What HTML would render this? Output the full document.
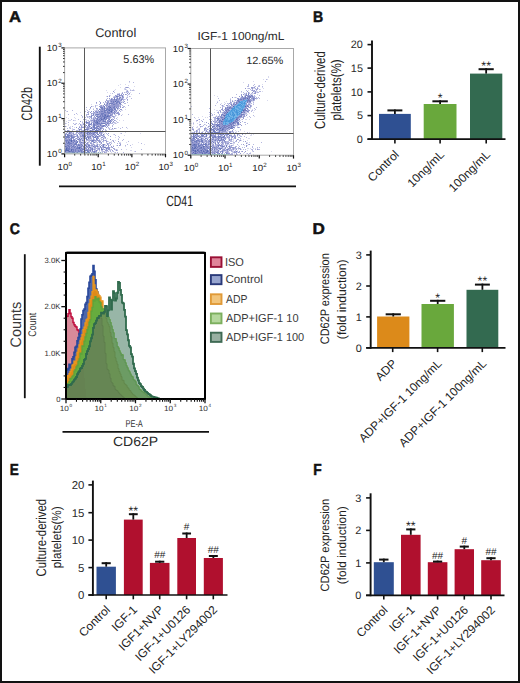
<!DOCTYPE html>
<html><head><meta charset="utf-8"><style>
html,body{margin:0;padding:0;background:#fff;overflow:hidden;width:520px;height:683px;}
svg{display:block;}
text{font-family:"Liberation Sans", sans-serif;text-rendering:geometricPrecision;}
</style></head><body>
<svg width="520" height="683" viewBox="0 0 520 683">
<defs><filter id="blr" x="-5%" y="-5%" width="110%" height="110%"><feGaussianBlur stdDeviation="0.35"/></filter></defs>
<rect x="0" y="0" width="520" height="683" fill="#fff"/>
<text x="9.13" y="22.35" font-size="15.7" font-weight="bold" fill="#111" textLength="12.06" lengthAdjust="spacingAndGlyphs" stroke="#111" stroke-width="0.5">A</text>
<text x="313.01" y="22.15" font-size="15.41" font-weight="bold" fill="#111" textLength="10.18" lengthAdjust="spacingAndGlyphs" stroke="#111" stroke-width="0.5">B</text>
<text x="9.67" y="234" font-size="15.54" font-weight="bold" fill="#111" textLength="10.16" lengthAdjust="spacingAndGlyphs" stroke="#111" stroke-width="0.5">C</text>
<text x="312.5" y="233.95" font-size="15.7" font-weight="bold" fill="#111" textLength="12.36" lengthAdjust="spacingAndGlyphs" stroke="#111" stroke-width="0.5">D</text>
<text x="9.84" y="474.85" font-size="15.99" font-weight="bold" fill="#111" textLength="9.04" lengthAdjust="spacingAndGlyphs" stroke="#111" stroke-width="0.5">E</text>
<text x="313.23" y="474.65" font-size="15.99" font-weight="bold" fill="#111" textLength="8.43" lengthAdjust="spacingAndGlyphs" stroke="#111" stroke-width="0.5">F</text>
<g filter="url(#blr)">
<g stroke="#b5b8df" stroke-width="1" fill="none"><path d="M129 81.5h1" stroke-dasharray="1"/><path d="M133 82.5h1" stroke-dasharray="1"/><path d="M125 87.5h4" stroke-dasharray="1 2 1"/><path d="M125 89.5h1" stroke-dasharray="1"/><path d="M127 90.5h7" stroke-dasharray="1 2 1 1 1 0 1"/><path d="M126 91.5h1" stroke-dasharray="1"/><path d="M114 92.5h15" stroke-dasharray="1 7 1 1 1 1 1 1 1"/><path d="M112 93.5h28" stroke-dasharray="1 6 1 19 1"/><path d="M126 94.5h3" stroke-dasharray="1 1 1"/><path d="M109 95.5h19" stroke-dasharray="1 6 1 0 1 9 1"/><path d="M114 96.5h16" stroke-dasharray="1 0 1 3 1 3 1 5 1"/><path d="M113 97.5h15" stroke-dasharray="1 1 1 0 1 10 1"/><path d="M107 98.5h25" stroke-dasharray="1 4 1 3 1 1 1 1 1 0 1 4 1 4 1"/><path d="M106 99.5h19" stroke-dasharray="1 3 1 9 1 2 1 0 1"/><path d="M107 100.5h21" stroke-dasharray="1 0 1 0 1 9 1 3 1 3 1"/><path d="M99 101.5h22" stroke-dasharray="1 20 1"/><path d="M103 102.5h25" stroke-dasharray="1 1 1 0 1 3 1 4 1 4 1 6 1"/><path d="M96 103.5h30" stroke-dasharray="1 7 1 1 1 1 1 9 1 5 1 0 1"/><path d="M99 104.5h23" stroke-dasharray="1 8 1 10 1 1 1"/><path d="M95 105.5h34" stroke-dasharray="1 4 1 7 1 10 1 0 1 1 1 5 1"/><path d="M95 106.5h30" stroke-dasharray="1 6 1 4 1 11 1 3 1 0 1"/><path d="M86 107.5h38" stroke-dasharray="1 16 1 2 1 8 1 1 1 5 1"/><path d="M90 108.5h30" stroke-dasharray="1 6 1 20 1 0 1"/><path d="M89 109.5h29" stroke-dasharray="1 3 1 3 1 15 1 3 1"/><path d="M65 110.5h50" stroke-dasharray="1 6 1 14 1 8 1 17 1"/><path d="M67 111.5h54" stroke-dasharray="1 17 1 2 1 8 1 0 1 7 1 8 1 4 1"/><path d="M88 112.5h11" stroke-dasharray="1 4 1 1 1 2 1"/><path d="M76 113.5h44" stroke-dasharray="1 11 1 3 1 1 1 0 1 0 1 0 1 0 1 12 1 1 1 5 1"/><path d="M68 114.5h61" stroke-dasharray="1 5 1 11 1 0 1 3 1 22 1 13 1"/><path d="M81 115.5h41" stroke-dasharray="1 4 1 9 1 1 1 0 1 12 1 2 1 5 1"/><path d="M82 116.5h33" stroke-dasharray="1 4 1 2 1 19 1 3 1"/><path d="M82 117.5h33" stroke-dasharray="1 2 1 1 1 2 1 2 1 0 1 18 1 0 1"/><path d="M89 118.5h28" stroke-dasharray="1 4 1 3 1 15 1 1 1"/><path d="M71 119.5h42" stroke-dasharray="1 6 1 4 1 1 1 26 1"/><path d="M73 120.5h43" stroke-dasharray="1 14 1 1 1 13 1 4 1 1 1 0 1 2 1"/><path d="M91 121.5h26" stroke-dasharray="1 9 1 14 1"/><path d="M68 122.5h50" stroke-dasharray="1 13 1 2 1 5 1 0 1 7 1 1 1 0 1 0 1 7 1 0 1 0 1 2 1"/><path d="M65 123.5h51" stroke-dasharray="1 7 1 2 1 2 1 3 1 0 1 2 1 18 1 3 1 0 1 0 1 2 1"/><path d="M74 124.5h40" stroke-dasharray="1 0 1 9 1 15 1 11 1"/><path d="M80 125.5h33" stroke-dasharray="1 0 1 3 1 5 1 5 1 1 1 5 1 6 1"/><path d="M72 126.5h41" stroke-dasharray="1 6 1 8 1 1 1 1 1 7 1 3 1 7 1"/><path d="M69 127.5h58" stroke-dasharray="1 15 1 0 1 2 1 2 1 9 1 5 1 13 1 3 1"/><path d="M67 128.5h54" stroke-dasharray="1 2 1 10 1 4 1 2 1 2 1 0 1 5 1 2 1 0 1 5 1 5 1 4 1"/><path d="M73 129.5h39" stroke-dasharray="1 0 1 30 1 3 1 1 1"/><path d="M65 130.5h42" stroke-dasharray="1 6 1 3 1 0 1 3 1 0 1 1 1 0 1 3 1 3 1 5 1 5 1 0 1"/><path d="M66 131.5h58" stroke-dasharray="1 7 1 2 1 1 1 0 1 7 1 4 1 2 1 5 1 0 1 3 1 7 1 7 1"/><path d="M73 132.5h30" stroke-dasharray="1 12 1 4 1 10 1"/><path d="M65 133.5h57" stroke-dasharray="1 2 1 2 1 0 1 3 1 2 1 2 1 2 1 2 1 11 1 5 1 14 1"/><path d="M66 134.5h49" stroke-dasharray="1 2 1 0 1 4 1 0 1 0 1 2 1 0 1 3 1 5 1 8 1 6 1 6 1"/><path d="M73 135.5h43" stroke-dasharray="1 2 1 4 1 4 1 0 1 0 1 0 1 0 1 4 1 4 1 2 1 4 1 6 1"/><path d="M76 136.5h43" stroke-dasharray="1 1 1 21 1 17 1"/><path d="M64 137.5h56" stroke-dasharray="1 15 1 1 1 2 1 10 1 1 1 5 1 14 1"/><path d="M64 138.5h42" stroke-dasharray="1 2 1 1 1 2 1 2 1 1 1 4 1 1 1 4 1 1 1 13 1"/><path d="M75 139.5h49" stroke-dasharray="1 5 1 0 1 0 1 4 1 0 1 1 1 2 1 4 1 1 1 0 1 0 1 14 1 4 1"/><path d="M75 140.5h48" stroke-dasharray="1 10 1 0 1 0 1 0 1 6 1 7 1 1 1 5 1 0 1 8 1"/><path d="M83 141.5h46" stroke-dasharray="1 5 1 5 1 0 1 1 1 3 1 0 1 3 1 20 1"/><path d="M65 142.5h50" stroke-dasharray="1 8 1 13 1 1 1 0 1 3 1 1 1 2 1 5 1 2 1 0 1 3 1"/><path d="M64 143.5h78" stroke-dasharray="1 16 1 0 1 10 1 14 1 0 1 1 1 5 1 1 1 0 1 20 1"/><path d="M77 144.5h51" stroke-dasharray="1 4 1 3 1 2 1 1 1 0 1 1 1 4 1 0 1 1 1 5 1 18 1"/><path d="M72 145.5h59" stroke-dasharray="1 17 1 4 1 3 1 2 1 17 1 4 1 4 1"/><path d="M76 146.5h23" stroke-dasharray="1 1 1 3 1 1 1 6 1 0 1 5 1"/><path d="M70 147.5h42" stroke-dasharray="1 15 1 1 1 2 1 0 1 4 1 4 1 3 1 4 1"/><path d="M84 148.5h31" stroke-dasharray="1 9 1 0 1 0 1 0 1 5 1 10 1"/><path d="M85 149.5h57" stroke-dasharray="1 3 1 3 1 1 1 1 1 0 1 4 1 7 1 4 1 4 1 19 1"/><path d="M94 150.5h24" stroke-dasharray="1 0 1 1 1 1 1 1 1 0 1 7 1 6 1"/><path d="M85 151.5h51" stroke-dasharray="1 3 1 12 1 0 1 0 1 1 1 1 1 1 1 2 1 21 1"/><path d="M64 152.5h60" stroke-dasharray="1 10 1 2 1 0 1 0 1 14 1 0 1 5 1 2 1 0 1 8 1 1 1 5 1"/></g>
<g stroke="#d8d9ee" stroke-width="1" fill="none"><path d="M129 82.5h1" stroke-dasharray="1"/><path d="M120 84.5h6" stroke-dasharray="1 4 1"/><path d="M118 85.5h11" stroke-dasharray="1 9 1"/><path d="M134 86.5h1" stroke-dasharray="1"/><path d="M120 87.5h1" stroke-dasharray="1"/><path d="M124 88.5h6" stroke-dasharray="1 0 1 3 1"/><path d="M115 89.5h19" stroke-dasharray="1 8 1 1 1 3 1 2 1"/><path d="M106 90.5h29" stroke-dasharray="1 7 1 11 1 4 1 2 1"/><path d="M128 91.5h1" stroke-dasharray="1"/><path d="M107 92.5h24" stroke-dasharray="1 17 1 1 1 2 1"/><path d="M110 93.5h12" stroke-dasharray="1 6 1 0 1 2 1"/><path d="M129 94.5h3" stroke-dasharray="1 1 1"/><path d="M110 95.5h14" stroke-dasharray="1 7 1 4 1"/><path d="M106 96.5h25" stroke-dasharray="1 6 1 6 1 0 1 5 1 2 1"/><path d="M121 97.5h6" stroke-dasharray="1 4 1"/><path d="M123 98.5h1" stroke-dasharray="1"/><path d="M109 99.5h17" stroke-dasharray="1 15 1"/><path d="M109 101.5h15" stroke-dasharray="1 11 1 0 1 0 1"/><path d="M109 102.5h14" stroke-dasharray="1 12 1"/><path d="M91 104.5h20" stroke-dasharray="1 13 1 4 1"/><path d="M96 105.5h7" stroke-dasharray="1 0 1 4 1"/><path d="M92 106.5h2" stroke-dasharray="1 0 1"/><path d="M95 107.5h31" stroke-dasharray="1 9 1 19 1"/><path d="M93 108.5h24" stroke-dasharray="1 5 1 0 1 15 1"/><path d="M86 109.5h40" stroke-dasharray="1 9 1 8 1 12 1 6 1"/><path d="M94 110.5h29" stroke-dasharray="1 0 1 1 1 19 1 3 1 0 1"/><path d="M66 111.5h53" stroke-dasharray="1 22 1 23 1 4 1"/><path d="M80 112.5h37" stroke-dasharray="1 35 1"/><path d="M115 113.5h1" stroke-dasharray="1"/><path d="M77 114.5h46" stroke-dasharray="1 16 1 14 1 5 1 6 1"/><path d="M94 115.5h25" stroke-dasharray="1 21 1 1 1"/><path d="M86 116.5h30" stroke-dasharray="1 1 1 22 1 3 1"/><path d="M66 117.5h52" stroke-dasharray="1 7 1 13 1 0 1 21 1 5 1"/><path d="M68 118.5h45" stroke-dasharray="1 6 1 16 1 17 1 1 1"/><path d="M86 119.5h32" stroke-dasharray="1 3 1 0 1 0 1 2 1 21 1"/><path d="M68 120.5h56" stroke-dasharray="1 0 1 0 1 3 1 0 1 10 1 0 1 31 1 3 1"/><path d="M66 121.5h41" stroke-dasharray="1 15 1 2 1 2 1 1 1 1 1 13 1"/><path d="M109 122.5h10" stroke-dasharray="1 5 1 2 1"/><path d="M66 123.5h51" stroke-dasharray="1 8 1 6 1 7 1 23 1 1 1"/><path d="M68 124.5h42" stroke-dasharray="1 9 1 2 1 0 1 9 1 9 1 4 1 1 1"/><path d="M68 125.5h42" stroke-dasharray="1 13 1 1 1 7 1 14 1 1 1"/><path d="M66 126.5h18" stroke-dasharray="1 3 1 11 1 0 1"/><path d="M70 127.5h49" stroke-dasharray="1 3 1 5 1 3 1 5 1 7 1 11 1 7 1"/><path d="M69 128.5h59" stroke-dasharray="1 2 1 7 1 27 1 7 1 10 1"/><path d="M72 129.5h42" stroke-dasharray="1 5 1 5 1 4 1 7 1 3 1 8 1 1 1 0 1"/><path d="M69 130.5h26" stroke-dasharray="1 8 1 7 1 1 1 5 1"/><path d="M68 131.5h59" stroke-dasharray="1 0 1 2 1 2 1 2 1 7 1 13 1 0 1 8 1 15 1"/><path d="M66 132.5h60" stroke-dasharray="1 1 1 3 1 5 1 24 1 1 1 19 1"/><path d="M75 133.5h66" stroke-dasharray="1 19 1 6 1 1 1 15 1 19 1"/><path d="M64 134.5h50" stroke-dasharray="1 7 1 11 1 1 1 17 1 8 1"/><path d="M74 135.5h51" stroke-dasharray="1 4 1 13 1 4 1 5 1 19 1"/><path d="M79 136.5h24" stroke-dasharray="1 4 1 6 1 2 1 7 1"/><path d="M70 137.5h46" stroke-dasharray="1 8 1 1 1 9 1 0 1 10 1 11 1"/><path d="M78 138.5h41" stroke-dasharray="1 1 1 19 1 0 1 2 1 2 1 10 1"/><path d="M90 139.5h17" stroke-dasharray="1 1 1 13 1"/><path d="M78 140.5h38" stroke-dasharray="1 2 1 18 1 0 1 13 1"/><path d="M64 141.5h48" stroke-dasharray="1 13 1 2 1 0 1 2 1 0 1 1 1 5 1 13 1 2 1"/><path d="M89 142.5h50" stroke-dasharray="1 6 1 6 1 7 1 7 1 0 1 5 1 11 1"/><path d="M78 143.5h29" stroke-dasharray="1 0 1 8 1 3 1 3 1 0 1 2 1 5 1"/><path d="M83 144.5h62" stroke-dasharray="1 0 1 11 1 1 1 6 1 26 1 11 1"/><path d="M64 145.5h53" stroke-dasharray="1 10 1 7 1 3 1 5 1 10 1 0 1 3 1 0 1 2 1 2 1"/><path d="M85 146.5h41" stroke-dasharray="1 4 1 8 1 4 1 0 1 19 1"/><path d="M82 147.5h50" stroke-dasharray="1 10 1 4 1 0 1 10 1 7 1 12 1"/><path d="M89 148.5h17" stroke-dasharray="1 3 1 8 1 2 1"/><path d="M64 149.5h63" stroke-dasharray="1 40 1 1 1 2 1 4 1 1 1 8 1"/><path d="M83 150.5h49" stroke-dasharray="1 7 1 17 1 5 1 14 1 0 1"/><path d="M91 151.5h44" stroke-dasharray="1 7 1 1 1 3 1 1 1 4 1 21 1"/><path d="M92 152.5h23" stroke-dasharray="1 18 1 2 1"/></g>
<g stroke="#9499cf" stroke-width="1" fill="none"><path d="M126 87.5h2" stroke-dasharray="1 0 1"/><path d="M113 91.5h15" stroke-dasharray="1 13 1"/><path d="M122 93.5h8" stroke-dasharray="1 4 1 1 1"/><path d="M117 94.5h9" stroke-dasharray="1 0 1 0 1 1 1 1 1 1 1"/><path d="M115 95.5h8" stroke-dasharray="1 4 1 0 1 0 1"/><path d="M107 96.5h12" stroke-dasharray="1 1 1 8 1"/><path d="M114 97.5h10" stroke-dasharray="1 2 1 1 1 2 1 0 1"/><path d="M109 98.5h14" stroke-dasharray="1 1 1 10 1"/><path d="M112 99.5h16" stroke-dasharray="1 0 1 1 1 1 1 0 1 0 1 2 1 4 1"/><path d="M106 100.5h16" stroke-dasharray="1 3 1 0 1 0 1 0 1 0 1 0 1 1 1 0 1 1 1 0 1"/><path d="M105 101.5h20" stroke-dasharray="1 1 1 0 1 1 1 1 1 1 1 1 1 2 1 4 1"/><path d="M96 102.5h28" stroke-dasharray="1 3 1 6 1 0 1 2 1 0 1 1 1 3 1 2 1 1 1"/><path d="M100 103.5h18" stroke-dasharray="1 12 1 0 1 0 1 1 1"/><path d="M106 104.5h15" stroke-dasharray="1 0 1 1 1 1 1 0 1 2 1 0 1 0 1 0 1 1 1"/><path d="M101 105.5h18" stroke-dasharray="1 1 1 1 1 0 1 0 1 1 1 0 1 0 1 0 1 0 1 0 1 0 1 0 1 0 1 0 1"/><path d="M91 106.5h30" stroke-dasharray="1 7 1 0 1 0 1 1 1 2 1 3 1 0 1 0 1 0 1 1 1 0 1 0 1 0 1 1 1"/><path d="M90 107.5h33" stroke-dasharray="1 16 1 0 1 2 1 0 1 5 1 1 1 1 1"/><path d="M96 108.5h20" stroke-dasharray="1 6 1 1 1 0 1 1 1 1 1 1 1 0 1 1 1"/><path d="M100 109.5h22" stroke-dasharray="1 0 1 1 1 16 1 0 1"/><path d="M98 110.5h22" stroke-dasharray="1 1 1 0 1 0 1 0 1 3 1 2 1 2 1 1 1 0 1 2 1"/><path d="M91 111.5h26" stroke-dasharray="1 1 1 1 1 0 1 3 1 2 1 1 1 2 1 0 1 2 1 3 1"/><path d="M87 112.5h32" stroke-dasharray="1 2 1 3 1 1 1 2 1 0 1 0 1 0 1 0 1 2 1 3 1 1 1 0 1 0 1 0 1 1 1 0 1"/><path d="M91 113.5h28" stroke-dasharray="1 1 1 5 1 0 1 3 1 0 1 0 1 0 1 2 1 1 1 3 1 0 1 0 1"/><path d="M88 114.5h32" stroke-dasharray="1 6 1 3 1 0 1 2 1 2 1 0 1 0 1 1 1 0 1 0 1 5 1 0 1"/><path d="M91 115.5h21" stroke-dasharray="1 0 1 0 1 1 1 1 1 3 1 1 1 2 1 2 1 1 1"/><path d="M89 116.5h25" stroke-dasharray="1 4 1 3 1 2 1 10 1 0 1"/><path d="M91 117.5h20" stroke-dasharray="1 3 1 1 1 1 1 0 1 1 1 0 1 3 1 0 1 0 1 0 1"/><path d="M91 118.5h19" stroke-dasharray="1 1 1 1 1 0 1 2 1 2 1 2 1 1 1 0 1 0 1"/><path d="M93 119.5h21" stroke-dasharray="1 0 1 1 1 1 1 1 1 3 1 1 1 1 1 4 1"/><path d="M91 120.5h24" stroke-dasharray="1 0 1 0 1 1 1 1 1 1 1 1 1 0 1 2 1 1 1 0 1 5 1"/><path d="M80 121.5h34" stroke-dasharray="1 5 1 2 1 3 1 1 1 2 1 1 1 1 1 4 1 0 1 1 1 0 1 1 1"/><path d="M88 122.5h21" stroke-dasharray="1 0 1 3 1 0 1 3 1 0 1 1 1 3 1 0 1 0 1 0 1"/><path d="M86 123.5h24" stroke-dasharray="1 1 1 0 1 4 1 0 1 4 1 4 1 2 1 0 1"/><path d="M80 124.5h29" stroke-dasharray="1 2 1 4 1 2 1 3 1 0 1 1 1 0 1 5 1 2 1"/><path d="M89 125.5h20" stroke-dasharray="1 5 1 0 1 1 1 2 1 0 1 3 1 1 1"/><path d="M65 126.5h43" stroke-dasharray="1 15 1 3 1 1 1 8 1 2 1 1 1 3 1 1 1"/><path d="M76 127.5h31" stroke-dasharray="1 2 1 1 1 0 1 0 1 3 1 0 1 6 1 1 1 1 1 0 1 0 1 4 1"/><path d="M78 128.5h37" stroke-dasharray="1 5 1 2 1 0 1 7 1 4 1 10 1 1 1"/><path d="M80 129.5h24" stroke-dasharray="1 0 1 6 1 9 1 1 1 2 1"/><path d="M67 130.5h36" stroke-dasharray="1 0 1 10 1 3 1 3 1 3 1 0 1 5 1 1 1 1 1"/><path d="M65 131.5h50" stroke-dasharray="1 7 1 9 1 0 1 5 1 6 1 0 1 7 1 7 1"/><path d="M67 132.5h35" stroke-dasharray="1 2 1 0 1 4 1 0 1 1 1 0 1 1 1 0 1 1 1 3 1 2 1 0 1 2 1 2 1 0 1 0 1"/><path d="M66 133.5h43" stroke-dasharray="1 3 1 2 1 4 1 1 1 0 1 1 1 2 1 3 1 1 1 1 1 1 1 0 1 1 1 1 1 6 1"/><path d="M68 134.5h34" stroke-dasharray="1 2 1 1 1 0 1 4 1 2 1 0 1 4 1 0 1 0 1 1 1 1 1 0 1 5 1"/><path d="M64 135.5h39" stroke-dasharray="1 5 1 1 1 7 1 3 1 0 1 5 1 0 1 1 1 1 1 2 1 1 1 0 1"/><path d="M64 136.5h47" stroke-dasharray="1 4 1 0 1 1 1 0 1 0 1 0 1 1 1 2 1 0 1 0 1 5 1 0 1 2 1 3 1 1 1 0 1 3 1 0 1 5 1"/><path d="M65 137.5h41" stroke-dasharray="1 8 1 2 1 0 1 4 1 2 1 0 1 1 1 0 1 2 1 7 1 0 1 2 1"/><path d="M66 138.5h38" stroke-dasharray="1 1 1 1 1 2 1 2 1 6 1 1 1 4 1 2 1 3 1 0 1 4 1"/><path d="M64 139.5h47" stroke-dasharray="1 0 1 0 1 0 1 0 1 1 1 2 1 0 1 2 1 1 1 7 1 5 1 3 1 12 1"/><path d="M68 140.5h38" stroke-dasharray="1 3 1 6 1 0 1 2 1 0 1 5 1 0 1 2 1 0 1 1 1 0 1 0 1 3 1 1 1"/><path d="M65 141.5h54" stroke-dasharray="1 1 1 1 1 0 1 1 1 0 1 1 1 0 1 2 1 0 1 3 1 6 1 1 1 5 1 0 1 5 1 6 1 4 1"/><path d="M67 142.5h35" stroke-dasharray="1 2 1 0 1 0 1 2 1 3 1 0 1 1 1 0 1 1 1 1 1 5 1 5 1 1 1"/><path d="M65 143.5h43" stroke-dasharray="1 0 1 5 1 0 1 0 1 5 1 2 1 0 1 1 1 0 1 2 1 0 1 9 1 5 1"/><path d="M66 144.5h55" stroke-dasharray="1 0 1 0 1 1 1 0 1 0 1 0 1 5 1 0 1 4 1 1 1 0 1 4 1 3 1 6 1 2 1 2 1 9 1"/><path d="M65 145.5h55" stroke-dasharray="1 0 1 2 1 0 1 3 1 1 1 0 1 2 1 0 1 2 1 1 1 4 1 0 1 1 1 1 1 0 1 3 1 4 1 1 1 8 1 1 1"/><path d="M67 146.5h47" stroke-dasharray="1 2 1 0 1 2 1 4 1 0 1 6 1 0 1 0 1 4 1 0 1 0 1 5 1 5 1 2 1 1 1"/><path d="M65 147.5h48" stroke-dasharray="1 2 1 3 1 0 1 1 1 0 1 4 1 1 1 1 1 1 1 6 1 0 1 4 1 0 1 1 1 3 1 0 1 0 1 2 1"/><path d="M64 148.5h50" stroke-dasharray="1 0 1 4 1 0 1 0 1 0 1 0 1 0 1 4 1 1 1 0 1 1 1 0 1 3 1 0 1 6 1 0 1 7 1 0 1 0 1 3 1"/><path d="M70 149.5h45" stroke-dasharray="1 3 1 1 1 0 1 0 1 0 1 1 1 4 1 0 1 0 1 1 1 0 1 2 1 4 1 4 1 1 1 1 1 0 1 4 1"/><path d="M69 150.5h48" stroke-dasharray="1 0 1 1 1 1 1 1 1 0 1 1 1 2 1 5 1 0 1 15 1 0 1 0 1 4 1 3 1"/><path d="M66 151.5h31" stroke-dasharray="1 0 1 6 1 1 1 0 1 2 1 1 1 7 1 1 1 0 1 1 1 0 1"/><path d="M65 152.5h40" stroke-dasharray="1 0 1 0 1 0 1 0 1 0 1 0 1 4 1 6 1 0 1 0 1 1 1 3 1 1 1 4 1 1 1 3 1"/></g>
<g stroke="#737fc0" stroke-width="1" fill="none"><path d="M119 95.5h1" stroke-dasharray="1"/><path d="M116 96.5h7" stroke-dasharray="1 0 1 4 1"/><path d="M120 97.5h1" stroke-dasharray="1"/><path d="M114 98.5h6" stroke-dasharray="1 2 1 1 1"/><path d="M111 99.5h11" stroke-dasharray="1 2 1 1 1 4 1"/><path d="M116 100.5h1" stroke-dasharray="1"/><path d="M111 101.5h8" stroke-dasharray="1 1 1 3 1 0 1"/><path d="M113 102.5h7" stroke-dasharray="1 2 1 0 1 1 1"/><path d="M107 103.5h14" stroke-dasharray="1 1 1 0 1 0 1 0 1 3 1 2 1 0 1"/><path d="M104 104.5h11" stroke-dasharray="1 8 1 0 1"/><path d="M104 106.5h11" stroke-dasharray="1 3 1 0 1 4 1"/><path d="M100 107.5h17" stroke-dasharray="1 0 1 0 1 1 1 4 1 3 1 0 1 1 1"/><path d="M101 108.5h17" stroke-dasharray="1 0 1 1 1 2 1 1 1 1 1 2 1 2 1"/><path d="M99 109.5h17" stroke-dasharray="1 2 1 1 1 1 1 0 1 0 1 0 1 0 1 0 1 0 1 1 1 0 1"/><path d="M104 110.5h9" stroke-dasharray="1 0 1 0 1 1 1 2 1 0 1"/><path d="M99 111.5h16" stroke-dasharray="1 1 1 0 1 1 1 2 1 2 1 3 1"/><path d="M97 112.5h15" stroke-dasharray="1 6 1 0 1 1 1 0 1 0 1 1 1"/><path d="M101 113.5h14" stroke-dasharray="1 0 1 0 1 4 1 0 1 4 1"/><path d="M93 114.5h13" stroke-dasharray="1 2 1 0 1 0 1 2 1 0 1 1 1 0 1"/><path d="M100 115.5h11" stroke-dasharray="1 1 1 1 1 2 1 0 1 1 1"/><path d="M91 116.5h19" stroke-dasharray="1 4 1 0 1 1 1 0 1 1 1 0 1 0 1 0 1 0 1 1 1 0 1"/><path d="M98 117.5h9" stroke-dasharray="1 2 1 3 1 0 1"/><path d="M97 118.5h10" stroke-dasharray="1 2 1 0 1 1 1 2 1"/><path d="M97 119.5h15" stroke-dasharray="1 1 1 2 1 0 1 1 1 3 1 1 1"/><path d="M94 120.5h17" stroke-dasharray="1 1 1 1 1 1 1 2 1 6 1"/><path d="M94 121.5h16" stroke-dasharray="1 1 1 0 1 1 1 3 1 0 1 0 1 3 1"/><path d="M86 122.5h25" stroke-dasharray="1 0 1 7 1 0 1 13 1"/><path d="M91 123.5h17" stroke-dasharray="1 1 1 2 1 0 1 0 1 0 1 1 1 0 1 0 1 0 1 2 1"/><path d="M89 124.5h18" stroke-dasharray="1 0 1 2 1 0 1 2 1 2 1 5 1"/><path d="M86 125.5h19" stroke-dasharray="1 1 1 4 1 0 1 5 1 2 1 0 1"/><path d="M89 126.5h15" stroke-dasharray="1 3 1 0 1 2 1 0 1 3 1 0 1"/><path d="M91 127.5h6" stroke-dasharray="1 1 1 0 1 1 1"/><path d="M90 128.5h11" stroke-dasharray="1 0 1 2 1 0 1 1 1 0 1 1 1"/><path d="M79 129.5h21" stroke-dasharray="1 5 1 0 1 0 1 4 1 0 1 0 1 1 1 2 1"/><path d="M90 130.5h8" stroke-dasharray="1 4 1 0 1 0 1"/><path d="M70 131.5h26" stroke-dasharray="1 0 1 13 1 1 1 1 1 1 1 0 1 1 1 0 1"/><path d="M69 132.5h29" stroke-dasharray="1 11 1 2 1 2 1 0 1 1 1 3 1 0 1 1 1"/><path d="M69 133.5h25" stroke-dasharray="1 14 1 2 1 1 1 1 1 1 1"/><path d="M65 134.5h39" stroke-dasharray="1 1 1 19 1 5 1 3 1 0 1 4 1"/><path d="M65 135.5h19" stroke-dasharray="1 1 1 0 1 0 1 1 1 5 1 4 1 0 1"/><path d="M65 136.5h33" stroke-dasharray="1 0 1 0 1 0 1 2 1 11 1 1 1 1 1 2 1 2 1 1 1 1 1"/><path d="M66 137.5h32" stroke-dasharray="1 0 1 0 1 0 1 1 1 0 1 0 1 10 1 3 1 5 1 0 1 1 1"/><path d="M65 138.5h32" stroke-dasharray="1 5 1 7 1 1 1 4 1 1 1 7 1"/><path d="M69 139.5h28" stroke-dasharray="1 1 1 6 1 1 1 3 1 1 1 9 1"/><path d="M65 140.5h29" stroke-dasharray="1 0 1 0 1 1 1 0 1 2 1 0 1 1 1 5 1 9 1 0 1"/><path d="M66 141.5h27" stroke-dasharray="1 1 1 5 1 2 1 14 1"/><path d="M66 142.5h29" stroke-dasharray="1 2 1 3 1 2 1 0 1 3 1 12 1"/><path d="M67 143.5h10" stroke-dasharray="1 0 1 0 1 0 1 0 1 3 1 0 1"/><path d="M65 144.5h39" stroke-dasharray="1 3 1 4 1 0 1 0 1 1 1 2 1 21 1"/><path d="M67 145.5h37" stroke-dasharray="1 0 1 2 1 1 1 4 1 0 1 2 1 2 1 2 1 0 1 13 1"/><path d="M64 146.5h40" stroke-dasharray="1 1 1 1 1 0 1 2 1 0 1 1 1 1 1 3 1 1 1 2 1 6 1 3 1 2 1 2 1"/><path d="M66 147.5h40" stroke-dasharray="1 0 1 1 1 1 1 2 1 2 1 0 1 1 1 8 1 0 1 13 1 0 1"/><path d="M67 148.5h40" stroke-dasharray="1 0 1 0 1 6 1 0 1 0 1 2 1 6 1 3 1 8 1 4 1"/><path d="M65 149.5h38" stroke-dasharray="1 1 1 0 1 0 1 2 1 0 1 1 1 4 1 1 1 0 1 0 1 7 1 8 1 0 1"/><path d="M64 150.5h33" stroke-dasharray="1 8 1 1 1 2 1 1 1 0 1 2 1 0 1 0 1 0 1 2 1 1 1 3 1"/><path d="M64 151.5h31" stroke-dasharray="1 3 1 1 1 0 1 0 1 0 1 1 1 2 1 0 1 1 1 1 1 0 1 2 1 0 1 5 1"/><path d="M72 152.5h23" stroke-dasharray="1 0 1 0 1 2 1 3 1 0 1 3 1 1 1 0 1 4 1"/></g>
<g stroke="#5767b0" stroke-width="1" fill="none"><path d="M115 101.5h1" stroke-dasharray="1"/><path d="M110 107.5h1" stroke-dasharray="1"/><path d="M109 110.5h1" stroke-dasharray="1"/><path d="M111 111.5h1" stroke-dasharray="1"/><path d="M105 115.5h1" stroke-dasharray="1"/><path d="M107 116.5h1" stroke-dasharray="1"/><path d="M104 117.5h1" stroke-dasharray="1"/><path d="M104 118.5h1" stroke-dasharray="1"/><path d="M101 119.5h1" stroke-dasharray="1"/><path d="M97 122.5h1" stroke-dasharray="1"/><path d="M71 140.5h1" stroke-dasharray="1"/><path d="M71 141.5h1" stroke-dasharray="1"/><path d="M68 142.5h1" stroke-dasharray="1"/><path d="M65 146.5h1" stroke-dasharray="1"/><path d="M79 147.5h1" stroke-dasharray="1"/><path d="M66 148.5h14" stroke-dasharray="1 12 1"/><path d="M66 149.5h6" stroke-dasharray="1 4 1"/><path d="M65 150.5h7" stroke-dasharray="1 0 1 0 1 0 1 2 1"/><path d="M65 151.5h5" stroke-dasharray="1 3 1"/></g>
</g>
<line x1="65.1" y1="153.2" x2="102.6" y2="153.2" stroke="#8cc0b4" stroke-width="1" stroke-opacity="0.8"/>
<rect x="64.6" y="47.9" width="100.9" height="106" fill="none" stroke="#a8a8a8" stroke-width="1"/>
<line x1="61.4" y1="153.9" x2="64.6" y2="153.9" stroke="#111" stroke-width="1.2"/>
<line x1="63" y1="143.26" x2="64.6" y2="143.26" stroke="#333" stroke-width="1"/>
<line x1="63" y1="137.04" x2="64.6" y2="137.04" stroke="#333" stroke-width="1"/>
<line x1="63" y1="132.63" x2="64.6" y2="132.63" stroke="#333" stroke-width="1"/>
<line x1="63" y1="129.2" x2="64.6" y2="129.2" stroke="#333" stroke-width="1"/>
<line x1="63" y1="126.41" x2="64.6" y2="126.41" stroke="#333" stroke-width="1"/>
<line x1="63" y1="124.04" x2="64.6" y2="124.04" stroke="#333" stroke-width="1"/>
<line x1="63" y1="121.99" x2="64.6" y2="121.99" stroke="#333" stroke-width="1"/>
<line x1="63" y1="120.18" x2="64.6" y2="120.18" stroke="#333" stroke-width="1"/>
<text x="46.67" y="157" font-size="8.9" fill="#222" textLength="10.71" lengthAdjust="spacingAndGlyphs">10</text>
<text x="58.3" y="153.3" font-size="6.2" fill="#222">0</text>
<line x1="61.4" y1="118.57" x2="64.6" y2="118.57" stroke="#111" stroke-width="1.2"/>
<line x1="63" y1="107.93" x2="64.6" y2="107.93" stroke="#333" stroke-width="1"/>
<line x1="63" y1="101.71" x2="64.6" y2="101.71" stroke="#333" stroke-width="1"/>
<line x1="63" y1="97.29" x2="64.6" y2="97.29" stroke="#333" stroke-width="1"/>
<line x1="63" y1="93.87" x2="64.6" y2="93.87" stroke="#333" stroke-width="1"/>
<line x1="63" y1="91.07" x2="64.6" y2="91.07" stroke="#333" stroke-width="1"/>
<line x1="63" y1="88.71" x2="64.6" y2="88.71" stroke="#333" stroke-width="1"/>
<line x1="63" y1="86.66" x2="64.6" y2="86.66" stroke="#333" stroke-width="1"/>
<line x1="63" y1="84.85" x2="64.6" y2="84.85" stroke="#333" stroke-width="1"/>
<text x="46.67" y="121.67" font-size="8.9" fill="#222" textLength="10.71" lengthAdjust="spacingAndGlyphs">10</text>
<text x="58.3" y="117.97" font-size="6.2" fill="#222">1</text>
<line x1="61.4" y1="83.23" x2="64.6" y2="83.23" stroke="#111" stroke-width="1.2"/>
<line x1="63" y1="72.6" x2="64.6" y2="72.6" stroke="#333" stroke-width="1"/>
<line x1="63" y1="66.38" x2="64.6" y2="66.38" stroke="#333" stroke-width="1"/>
<line x1="63" y1="61.96" x2="64.6" y2="61.96" stroke="#333" stroke-width="1"/>
<line x1="63" y1="58.54" x2="64.6" y2="58.54" stroke="#333" stroke-width="1"/>
<line x1="63" y1="55.74" x2="64.6" y2="55.74" stroke="#333" stroke-width="1"/>
<line x1="63" y1="53.37" x2="64.6" y2="53.37" stroke="#333" stroke-width="1"/>
<line x1="63" y1="51.32" x2="64.6" y2="51.32" stroke="#333" stroke-width="1"/>
<line x1="63" y1="49.52" x2="64.6" y2="49.52" stroke="#333" stroke-width="1"/>
<text x="46.67" y="86.33" font-size="8.9" fill="#222" textLength="10.71" lengthAdjust="spacingAndGlyphs">10</text>
<text x="58.3" y="82.63" font-size="6.2" fill="#222">2</text>
<line x1="61.4" y1="47.9" x2="64.6" y2="47.9" stroke="#111" stroke-width="1.2"/>
<text x="46.67" y="51" font-size="8.9" fill="#222" textLength="10.71" lengthAdjust="spacingAndGlyphs">10</text>
<text x="58.3" y="47.3" font-size="6.2" fill="#222">3</text>
<line x1="64.6" y1="153.9" x2="64.6" y2="157.3" stroke="#111" stroke-width="1.2"/>
<line x1="74.72" y1="153.9" x2="74.72" y2="155.6" stroke="#333" stroke-width="1"/>
<line x1="80.65" y1="153.9" x2="80.65" y2="155.6" stroke="#333" stroke-width="1"/>
<line x1="84.85" y1="153.9" x2="84.85" y2="155.6" stroke="#333" stroke-width="1"/>
<line x1="88.11" y1="153.9" x2="88.11" y2="155.6" stroke="#333" stroke-width="1"/>
<line x1="90.77" y1="153.9" x2="90.77" y2="155.6" stroke="#333" stroke-width="1"/>
<line x1="93.02" y1="153.9" x2="93.02" y2="155.6" stroke="#333" stroke-width="1"/>
<line x1="94.97" y1="153.9" x2="94.97" y2="155.6" stroke="#333" stroke-width="1"/>
<line x1="96.69" y1="153.9" x2="96.69" y2="155.6" stroke="#333" stroke-width="1"/>
<text x="57.56" y="169.5" font-size="8.9" fill="#222" textLength="10.82" lengthAdjust="spacingAndGlyphs">10</text>
<text x="68.5" y="165.6" font-size="6.2" fill="#222">0</text>
<line x1="98.23" y1="153.9" x2="98.23" y2="157.3" stroke="#111" stroke-width="1.2"/>
<line x1="108.36" y1="153.9" x2="108.36" y2="155.6" stroke="#333" stroke-width="1"/>
<line x1="114.28" y1="153.9" x2="114.28" y2="155.6" stroke="#333" stroke-width="1"/>
<line x1="118.48" y1="153.9" x2="118.48" y2="155.6" stroke="#333" stroke-width="1"/>
<line x1="121.74" y1="153.9" x2="121.74" y2="155.6" stroke="#333" stroke-width="1"/>
<line x1="124.41" y1="153.9" x2="124.41" y2="155.6" stroke="#333" stroke-width="1"/>
<line x1="126.66" y1="153.9" x2="126.66" y2="155.6" stroke="#333" stroke-width="1"/>
<line x1="128.61" y1="153.9" x2="128.61" y2="155.6" stroke="#333" stroke-width="1"/>
<line x1="130.33" y1="153.9" x2="130.33" y2="155.6" stroke="#333" stroke-width="1"/>
<text x="91.19" y="169.5" font-size="8.9" fill="#222" textLength="10.82" lengthAdjust="spacingAndGlyphs">10</text>
<text x="102.13" y="165.6" font-size="6.2" fill="#222">1</text>
<line x1="131.87" y1="153.9" x2="131.87" y2="157.3" stroke="#111" stroke-width="1.2"/>
<line x1="141.99" y1="153.9" x2="141.99" y2="155.6" stroke="#333" stroke-width="1"/>
<line x1="147.91" y1="153.9" x2="147.91" y2="155.6" stroke="#333" stroke-width="1"/>
<line x1="152.12" y1="153.9" x2="152.12" y2="155.6" stroke="#333" stroke-width="1"/>
<line x1="155.38" y1="153.9" x2="155.38" y2="155.6" stroke="#333" stroke-width="1"/>
<line x1="158.04" y1="153.9" x2="158.04" y2="155.6" stroke="#333" stroke-width="1"/>
<line x1="160.29" y1="153.9" x2="160.29" y2="155.6" stroke="#333" stroke-width="1"/>
<line x1="162.24" y1="153.9" x2="162.24" y2="155.6" stroke="#333" stroke-width="1"/>
<line x1="163.96" y1="153.9" x2="163.96" y2="155.6" stroke="#333" stroke-width="1"/>
<text x="124.83" y="169.5" font-size="8.9" fill="#222" textLength="10.82" lengthAdjust="spacingAndGlyphs">10</text>
<text x="135.77" y="165.6" font-size="6.2" fill="#222">2</text>
<line x1="165.5" y1="153.9" x2="165.5" y2="157.3" stroke="#111" stroke-width="1.2"/>
<text x="158.46" y="169.5" font-size="8.9" fill="#222" textLength="10.82" lengthAdjust="spacingAndGlyphs">10</text>
<text x="169.4" y="165.6" font-size="6.2" fill="#222">3</text>
<g filter="url(#blr)">
<g stroke="#d8d9ee" stroke-width="1" fill="none"><path d="M268 76.5h1" stroke-dasharray="1"/><path d="M268 77.5h1" stroke-dasharray="1"/><path d="M263 79.5h5" stroke-dasharray="1 3 1"/><path d="M253 81.5h1" stroke-dasharray="1"/><path d="M243 82.5h1" stroke-dasharray="1"/><path d="M262 84.5h1" stroke-dasharray="1"/><path d="M258 85.5h1" stroke-dasharray="1"/><path d="M254 86.5h1" stroke-dasharray="1"/><path d="M262 87.5h1" stroke-dasharray="1"/><path d="M247 88.5h17" stroke-dasharray="1 5 1 0 1 3 1 4 1"/><path d="M255 89.5h6" stroke-dasharray="1 4 1"/><path d="M248 90.5h1" stroke-dasharray="1"/><path d="M256 91.5h7" stroke-dasharray="1 0 1 4 1"/><path d="M241 92.5h16" stroke-dasharray="1 4 1 2 1 4 1 1 1"/><path d="M245 93.5h9" stroke-dasharray="1 6 1 0 1"/><path d="M244 94.5h14" stroke-dasharray="1 6 1 0 1 4 1"/><path d="M214 95.5h31" stroke-dasharray="1 29 1"/><path d="M217 96.5h39" stroke-dasharray="1 37 1"/><path d="M234 97.5h7" stroke-dasharray="1 1 1 3 1"/><path d="M230 98.5h10" stroke-dasharray="1 8 1"/><path d="M237 99.5h20" stroke-dasharray="1 18 1"/><path d="M234 100.5h34" stroke-dasharray="1 1 1 30 1"/><path d="M217 101.5h37" stroke-dasharray="1 8 1 6 1 0 1 16 1 0 1 0 1"/><path d="M224 102.5h10" stroke-dasharray="1 8 1"/><path d="M216 103.5h38" stroke-dasharray="1 4 1 3 1 2 1 6 1 14 1 2 1"/><path d="M232 104.5h19" stroke-dasharray="1 14 1 2 1"/><path d="M221 105.5h29" stroke-dasharray="1 1 1 4 1 20 1"/><path d="M224 106.5h1" stroke-dasharray="1"/><path d="M250 108.5h1" stroke-dasharray="1"/><path d="M214 109.5h39" stroke-dasharray="1 37 1"/><path d="M216 110.5h39" stroke-dasharray="1 0 1 33 1 2 1"/><path d="M218 111.5h6" stroke-dasharray="1 4 1"/><path d="M214 112.5h40" stroke-dasharray="1 6 1 24 1 0 1 5 1"/><path d="M242 113.5h8" stroke-dasharray="1 6 1"/><path d="M209 114.5h39" stroke-dasharray="1 35 1 0 1 0 1"/><path d="M211 115.5h6" stroke-dasharray="1 4 1"/><path d="M202 116.5h53" stroke-dasharray="1 12 1 1 1 24 1 2 1 8 1"/><path d="M198 117.5h50" stroke-dasharray="1 6 1 1 1 11 1 27 1"/><path d="M195 118.5h46" stroke-dasharray="1 44 1"/><path d="M198 119.5h52" stroke-dasharray="1 42 1 3 1 0 1 2 1"/><path d="M212 120.5h29" stroke-dasharray="1 3 1 22 1 0 1"/><path d="M196 121.5h43" stroke-dasharray="1 2 1 17 1 20 1"/><path d="M193 122.5h12" stroke-dasharray="1 5 1 4 1"/><path d="M191 123.5h49" stroke-dasharray="1 5 1 17 1 20 1 2 1"/><path d="M193 124.5h44" stroke-dasharray="1 11 1 3 1 24 1 1 1"/><path d="M199 125.5h40" stroke-dasharray="1 9 1 0 1 27 1"/><path d="M193 126.5h45" stroke-dasharray="1 3 1 17 1 18 1 0 1 1 1"/><path d="M196 127.5h23" stroke-dasharray="1 0 1 2 1 6 1 0 1 7 1 1 1"/><path d="M190 128.5h45" stroke-dasharray="1 2 1 4 1 11 1 23 1"/><path d="M190 129.5h20" stroke-dasharray="1 6 1 8 1 1 1 0 1"/><path d="M205 130.5h36" stroke-dasharray="1 20 1 1 1 6 1 4 1"/><path d="M195 131.5h50" stroke-dasharray="1 6 1 0 1 1 1 2 1 2 1 0 1 4 1 9 1 0 1 4 1 2 1 7 1"/><path d="M191 132.5h59" stroke-dasharray="1 5 1 0 1 32 1 0 1 3 1 12 1"/><path d="M195 133.5h56" stroke-dasharray="1 5 1 7 1 4 1 7 1 0 1 6 1 19 1"/><path d="M191 134.5h63" stroke-dasharray="1 0 1 14 1 6 1 1 1 7 1 4 1 0 1 0 1 7 1 5 1 5 1 1 1"/><path d="M205 135.5h47" stroke-dasharray="1 1 1 1 1 15 1 7 1 6 1 9 1 0 1"/><path d="M210 136.5h28" stroke-dasharray="1 19 1 6 1"/><path d="M190 137.5h37" stroke-dasharray="1 1 1 4 1 4 1 0 1 1 1 0 1 0 1 18 1"/><path d="M200 138.5h50" stroke-dasharray="1 7 1 1 1 3 1 7 1 3 1 6 1 14 1 0 1"/><path d="M219 139.5h25" stroke-dasharray="1 4 1 3 1 3 1 0 1 6 1 2 1"/><path d="M207 140.5h41" stroke-dasharray="1 20 1 4 1 7 1 5 1"/><path d="M216 141.5h24" stroke-dasharray="1 3 1 0 1 1 1 8 1 0 1 5 1"/><path d="M200 142.5h50" stroke-dasharray="1 4 1 4 1 1 1 33 1 0 1 1 1"/><path d="M190 143.5h58" stroke-dasharray="1 9 1 3 1 2 1 5 1 0 1 2 1 2 1 0 1 10 1 0 1 0 1 12 1"/><path d="M211 144.5h23" stroke-dasharray="1 14 1 1 1 0 1 3 1"/><path d="M209 145.5h39" stroke-dasharray="1 1 1 2 1 8 1 1 1 1 1 2 1 2 1 4 1 5 1 2 1"/><path d="M220 147.5h7" stroke-dasharray="1 2 1 0 1 1 1"/><path d="M223 148.5h35" stroke-dasharray="1 3 1 9 1 9 1 0 1 1 1 2 1 1 1 1 1"/><path d="M213 149.5h29" stroke-dasharray="1 4 1 6 1 8 1 0 1 2 1 2 1"/><path d="M219 150.5h29" stroke-dasharray="1 1 1 6 1 3 1 0 1 3 1 9 1"/><path d="M211 151.5h61" stroke-dasharray="1 7 1 4 1 0 1 7 1 18 1 18 1"/><path d="M223 152.5h28" stroke-dasharray="1 5 1 2 1 4 1 12 1"/><path d="M211 153.5h36" stroke-dasharray="1 22 1 8 1 2 1"/><path d="M214 154.5h40" stroke-dasharray="1 2 1 1 1 14 1 4 1 13 1"/></g>
<g stroke="#b5b8df" stroke-width="1" fill="none"><path d="M266 79.5h1" stroke-dasharray="1"/><path d="M265 81.5h1" stroke-dasharray="1"/><path d="M248 84.5h7" stroke-dasharray="1 5 1"/><path d="M248 85.5h12" stroke-dasharray="1 4 1 5 1"/><path d="M247 86.5h16" stroke-dasharray="1 0 1 6 1 2 1 0 1 2 1"/><path d="M253 87.5h5" stroke-dasharray="1 3 1"/><path d="M248 88.5h8" stroke-dasharray="1 0 1 1 1 3 1"/><path d="M250 89.5h10" stroke-dasharray="1 1 1 4 1 1 1"/><path d="M246 90.5h11" stroke-dasharray="1 4 1 1 1 2 1"/><path d="M241 91.5h20" stroke-dasharray="1 12 1 4 1 0 1"/><path d="M243 92.5h16" stroke-dasharray="1 13 1 0 1"/><path d="M244 93.5h8" stroke-dasharray="1 4 1 1 1"/><path d="M236 94.5h15" stroke-dasharray="1 8 1 4 1"/><path d="M250 95.5h10" stroke-dasharray="1 3 1 4 1"/><path d="M241 96.5h14" stroke-dasharray="1 2 1 8 1 0 1"/><path d="M235 97.5h24" stroke-dasharray="1 15 1 4 1 1 1"/><path d="M218 98.5h42" stroke-dasharray="1 37 1 0 1 1 1"/><path d="M230 99.5h23" stroke-dasharray="1 20 1 0 1"/><path d="M219 100.5h36" stroke-dasharray="1 10 1 1 1 19 1 1 1"/><path d="M230 101.5h7" stroke-dasharray="1 5 1"/><path d="M217 102.5h37" stroke-dasharray="1 13 1 3 1 10 1 1 1 4 1"/><path d="M227 103.5h25" stroke-dasharray="1 2 1 0 1 16 1 0 1 1 1"/><path d="M220 104.5h34" stroke-dasharray="1 3 1 3 1 1 1 22 1"/><path d="M215 105.5h37" stroke-dasharray="1 13 1 3 1 14 1 2 1"/><path d="M191 106.5h61" stroke-dasharray="1 30 1 0 1 3 1 0 1 0 1 1 1 0 1 18 1"/><path d="M220 107.5h37" stroke-dasharray="1 1 1 3 1 21 1 1 1 5 1"/><path d="M209 108.5h46" stroke-dasharray="1 44 1"/><path d="M224 109.5h32" stroke-dasharray="1 4 1 0 1 17 1 6 1"/><path d="M219 110.5h34" stroke-dasharray="1 0 1 1 1 24 1 4 1"/><path d="M225 111.5h27" stroke-dasharray="1 16 1 2 1 0 1 4 1"/><path d="M209 112.5h40" stroke-dasharray="1 7 1 2 1 1 1 22 1 2 1"/><path d="M211 113.5h36" stroke-dasharray="1 6 1 3 1 0 1 19 1 0 1 0 1 0 1"/><path d="M192 114.5h33" stroke-dasharray="1 19 1 1 1 4 1 4 1"/><path d="M212 115.5h42" stroke-dasharray="1 6 1 2 1 19 1 0 1 9 1"/><path d="M209 116.5h41" stroke-dasharray="1 6 1 2 1 2 1 0 1 25 1"/><path d="M194 117.5h57" stroke-dasharray="1 18 1 0 1 3 1 22 1 0 1 7 1"/><path d="M214 118.5h26" stroke-dasharray="1 0 1 4 1 18 1"/><path d="M203 119.5h40" stroke-dasharray="1 5 1 1 1 2 1 0 1 3 1 1 1 16 1 3 1"/><path d="M196 120.5h23" stroke-dasharray="1 4 1 12 1 0 1 2 1"/><path d="M214 121.5h29" stroke-dasharray="1 0 1 2 1 20 1 2 1"/><path d="M211 122.5h35" stroke-dasharray="1 2 1 1 1 0 1 26 1 0 1"/><path d="M193 123.5h55" stroke-dasharray="1 20 1 32 1"/><path d="M199 124.5h47" stroke-dasharray="1 4 1 30 1 3 1 5 1"/><path d="M203 125.5h35" stroke-dasharray="1 2 1 6 1 1 1 16 1 2 1 0 1 0 1"/><path d="M201 126.5h33" stroke-dasharray="1 0 1 6 1 23 1"/><path d="M205 127.5h35" stroke-dasharray="1 7 1 0 1 12 1 9 1 1 1"/><path d="M192 128.5h38" stroke-dasharray="1 6 1 6 1 11 1 10 1"/><path d="M198 129.5h43" stroke-dasharray="1 0 1 5 1 4 1 3 1 1 1 10 1 0 1 4 1 6 1"/><path d="M193 130.5h26" stroke-dasharray="1 3 1 1 1 12 1 4 1 0 1"/><path d="M194 131.5h45" stroke-dasharray="1 2 1 1 1 7 1 10 1 1 1 0 1 4 1 4 1 6 1"/><path d="M192 132.5h56" stroke-dasharray="1 0 1 7 1 5 1 1 1 0 1 2 1 6 1 2 1 0 1 0 1 1 1 7 1 11 1"/><path d="M191 133.5h54" stroke-dasharray="1 4 1 0 1 2 1 1 1 1 1 0 1 1 1 2 1 5 1 1 1 1 1 0 1 3 1 12 1 1 1 3 1"/><path d="M194 134.5h45" stroke-dasharray="1 0 1 4 1 2 1 1 1 2 1 0 1 2 1 4 1 20 1"/><path d="M194 135.5h46" stroke-dasharray="1 1 1 1 1 0 1 20 1 1 1 4 1 7 1 3 1"/><path d="M190 136.5h55" stroke-dasharray="1 4 1 3 1 11 1 4 1 4 1 0 1 3 1 0 1 0 1 0 1 4 1 5 1 0 1 2 1"/><path d="M201 137.5h46" stroke-dasharray="1 2 1 3 1 8 1 10 1 2 1 6 1 0 1 6 1"/><path d="M191 138.5h50" stroke-dasharray="1 11 1 3 1 3 1 0 1 2 1 0 1 3 1 2 1 4 1 0 1 1 1 2 1 5 1"/><path d="M202 139.5h37" stroke-dasharray="1 0 1 1 1 5 1 2 1 2 1 2 1 9 1 7 1"/><path d="M195 140.5h45" stroke-dasharray="1 4 1 2 1 0 1 6 1 0 1 0 1 2 1 13 1 0 1 7 1"/><path d="M190 141.5h54" stroke-dasharray="1 2 1 9 1 0 1 2 1 3 1 1 1 0 1 0 1 10 1 0 1 0 1 1 1 0 1 3 1 0 1 6 1"/><path d="M198 142.5h64" stroke-dasharray="1 2 1 2 1 2 1 1 1 4 1 4 1 3 1 0 1 1 1 0 1 0 1 0 1 3 1 0 1 3 1 22 1"/><path d="M211 143.5h16" stroke-dasharray="1 0 1 10 1 2 1"/><path d="M190 144.5h64" stroke-dasharray="1 8 1 7 1 2 1 1 1 3 1 0 1 0 1 3 1 0 1 1 1 1 1 9 1 3 1 6 1 4 1"/><path d="M197 145.5h36" stroke-dasharray="1 5 1 4 1 6 1 0 1 7 1 4 1 2 1"/><path d="M212 146.5h41" stroke-dasharray="1 1 1 0 1 1 1 2 1 7 1 1 1 0 1 3 1 0 1 2 1 12 1"/><path d="M218 147.5h42" stroke-dasharray="1 0 1 1 1 5 1 6 1 3 1 3 1 1 1 7 1 4 1 1 1"/><path d="M213 148.5h28" stroke-dasharray="1 3 1 4 1 1 1 7 1 1 1 0 1 0 1 1 1 1 1"/><path d="M211 149.5h49" stroke-dasharray="1 3 1 3 1 2 1 6 1 0 1 0 1 0 1 10 1 1 1 5 1 0 1 2 1 2 1 0 1"/><path d="M212 150.5h41" stroke-dasharray="1 0 1 1 1 0 1 0 1 8 1 3 1 4 1 16 1"/><path d="M213 151.5h41" stroke-dasharray="1 2 1 6 1 2 1 1 1 2 1 0 1 2 1 1 1 3 1 11 1"/><path d="M210 152.5h35" stroke-dasharray="1 4 1 12 1 4 1 2 1 2 1 4 1"/><path d="M213 153.5h38" stroke-dasharray="1 1 1 8 1 6 1 0 1 14 1 1 1 0 1"/><path d="M218 154.5h31" stroke-dasharray="1 5 1 1 1 1 1 0 1 7 1 10 1"/></g>
<g stroke="#9499cf" stroke-width="1" fill="none"><path d="M251 87.5h4" stroke-dasharray="1 0 1 1 1"/><path d="M245 88.5h13" stroke-dasharray="1 6 1 4 1"/><path d="M256 89.5h1" stroke-dasharray="1"/><path d="M252 90.5h3" stroke-dasharray="1 1 1"/><path d="M247 91.5h9" stroke-dasharray="1 5 1 1 1"/><path d="M248 92.5h8" stroke-dasharray="1 3 1 2 1"/><path d="M246 93.5h10" stroke-dasharray="1 1 1 5 1 0 1"/><path d="M241 94.5h6" stroke-dasharray="1 1 1 2 1"/><path d="M241 95.5h12" stroke-dasharray="1 3 1 1 1 0 1 0 1 2 1"/><path d="M239 96.5h13" stroke-dasharray="1 7 1 3 1"/><path d="M232 97.5h23" stroke-dasharray="1 8 1 0 1 0 1 0 1 1 1 0 1 0 1 3 1 0 1 0 1"/><path d="M237 98.5h19" stroke-dasharray="1 0 1 1 1 0 1 0 1 3 1 1 1 2 1 0 1 1 1 0 1"/><path d="M239 99.5h16" stroke-dasharray="1 2 1 1 1 0 1 1 1 1 1 0 1 3 1"/><path d="M235 100.5h19" stroke-dasharray="1 3 1 0 1 0 1 0 1 7 1 0 1 1 1"/><path d="M232 101.5h17" stroke-dasharray="1 4 1 10 1"/><path d="M230 102.5h21" stroke-dasharray="1 3 1 2 1 0 1 10 1 0 1"/><path d="M229 103.5h18" stroke-dasharray="1 3 1 0 1 2 1 8 1"/><path d="M234 104.5h16" stroke-dasharray="1 1 1 9 1 1 1 0 1"/><path d="M222 105.5h29" stroke-dasharray="1 3 1 0 1 3 1 0 1 1 1 10 1 0 1 3 1"/><path d="M230 106.5h21" stroke-dasharray="1 15 1 3 1"/><path d="M225 107.5h25" stroke-dasharray="1 2 1 2 1 0 1 12 1 0 1 2 1"/><path d="M222 108.5h25" stroke-dasharray="1 3 1 0 1 0 1 1 1 13 1 0 1 0 1"/><path d="M221 109.5h27" stroke-dasharray="1 0 1 2 1 0 1 16 1 3 1"/><path d="M223 110.5h27" stroke-dasharray="1 3 1 20 1 0 1"/><path d="M220 111.5h29" stroke-dasharray="1 3 1 2 1 0 1 15 1 3 1"/><path d="M218 112.5h26" stroke-dasharray="1 4 1 0 1 1 1 16 1"/><path d="M225 113.5h17" stroke-dasharray="1 15 1"/><path d="M221 114.5h24" stroke-dasharray="1 1 1 1 1 14 1 3 1"/><path d="M239 115.5h8" stroke-dasharray="1 0 1 3 1 1 1"/><path d="M218 116.5h27" stroke-dasharray="1 1 1 0 1 16 1 4 1 0 1"/><path d="M215 117.5h29" stroke-dasharray="1 1 1 2 1 2 1 0 1 14 1 0 1 2 1"/><path d="M216 118.5h28" stroke-dasharray="1 2 1 1 1 0 1 0 1 14 1 4 1"/><path d="M199 119.5h37" stroke-dasharray="1 10 1 6 1 2 1 14 1"/><path d="M197 120.5h42" stroke-dasharray="1 12 1 10 1 0 1 0 1 10 1 1 1 1 1"/><path d="M202 121.5h36" stroke-dasharray="1 8 1 1 1 2 1 3 1 12 1 0 1 2 1"/><path d="M206 122.5h35" stroke-dasharray="1 8 1 2 1 1 1 0 1 0 1 9 1 2 1 0 1 3 1"/><path d="M208 123.5h28" stroke-dasharray="1 2 1 0 1 4 1 1 1 0 1 1 1 8 1 2 1 0 1"/><path d="M200 124.5h41" stroke-dasharray="1 9 1 2 1 0 1 0 1 1 1 2 1 0 1 6 1 0 1 2 1 0 1 3 1 2 1"/><path d="M211 125.5h31" stroke-dasharray="1 2 1 1 1 2 1 0 1 0 1 0 1 3 1 0 1 2 1 10 1"/><path d="M200 126.5h31" stroke-dasharray="1 7 1 1 1 6 1 0 1 1 1 0 1 1 1 1 1 2 1 0 1 0 1"/><path d="M192 127.5h47" stroke-dasharray="1 22 1 1 1 1 1 0 1 1 1 3 1 3 1 1 1 1 1 3 1"/><path d="M204 128.5h25" stroke-dasharray="1 0 1 3 1 3 1 1 1 0 1 0 1 3 1 2 1 0 1 0 1 1 1"/><path d="M192 129.5h38" stroke-dasharray="1 0 1 10 1 2 1 7 1 3 1 0 1 0 1 2 1 0 1 0 1 2 1"/><path d="M196 130.5h37" stroke-dasharray="1 7 1 1 1 3 1 0 1 11 1 0 1 2 1 4 1"/><path d="M196 131.5h37" stroke-dasharray="1 9 1 2 1 5 1 6 1 0 1 0 1 0 1 3 1 0 1 1 1"/><path d="M194 132.5h40" stroke-dasharray="1 1 1 2 1 2 1 2 1 2 1 12 1 0 1 3 1 6 1"/><path d="M193 133.5h41" stroke-dasharray="1 14 1 4 1 3 1 8 1 0 1 0 1 2 1 1 1"/><path d="M201 134.5h42" stroke-dasharray="1 0 1 7 1 0 1 1 1 1 1 2 1 0 1 1 1 0 1 2 1 0 1 7 1 2 1 4 1"/><path d="M191 135.5h47" stroke-dasharray="1 5 1 12 1 1 1 0 1 0 1 0 1 2 1 2 1 4 1 3 1 0 1 2 1 2 1"/><path d="M191 136.5h45" stroke-dasharray="1 0 1 3 1 0 1 2 1 0 1 1 1 0 1 0 1 3 1 2 1 0 1 3 1 13 1 0 1 0 1 1 1"/><path d="M191 137.5h45" stroke-dasharray="1 2 1 5 1 8 1 0 1 3 1 1 1 2 1 0 1 3 1 0 1 1 1 1 1 2 1 1 1 0 1"/><path d="M192 138.5h44" stroke-dasharray="1 4 1 0 1 3 1 3 1 6 1 3 1 0 1 0 1 4 1 0 1 9 1"/><path d="M192 139.5h46" stroke-dasharray="1 0 1 0 1 0 1 1 1 0 1 0 1 0 1 3 1 4 1 3 1 1 1 0 1 5 1 2 1 3 1 1 1 5 1"/><path d="M194 140.5h47" stroke-dasharray="1 4 1 5 1 0 1 1 1 0 1 4 1 2 1 0 1 2 1 0 1 0 1 5 1 6 1 3 1"/><path d="M192 141.5h54" stroke-dasharray="1 4 1 0 1 1 1 4 1 0 1 1 1 8 1 1 1 2 1 1 1 0 1 19 1"/><path d="M191 142.5h35" stroke-dasharray="1 1 1 0 1 0 1 1 1 1 1 3 1 2 1 1 1 2 1 3 1 1 1 0 1 2 1 0 1 2 1"/><path d="M191 143.5h56" stroke-dasharray="1 0 1 0 1 0 1 0 1 0 1 0 1 1 1 1 1 1 1 2 1 1 1 0 1 12 1 2 1 1 1 0 1 1 1 0 1 14 1"/><path d="M192 144.5h58" stroke-dasharray="1 4 1 2 1 1 1 6 1 3 1 1 1 3 1 1 1 21 1 5 1"/><path d="M191 145.5h56" stroke-dasharray="1 9 1 4 1 0 1 4 1 0 1 3 1 1 1 1 1 0 1 8 1 14 1"/><path d="M190 146.5h57" stroke-dasharray="1 1 1 0 1 3 1 2 1 0 1 0 1 2 1 1 1 0 1 0 1 3 1 2 1 4 1 2 1 21 1"/><path d="M191 147.5h45" stroke-dasharray="1 1 1 2 1 1 1 0 1 2 1 1 1 0 1 0 1 1 1 0 1 3 1 1 1 0 1 0 1 4 1 2 1 3 1 0 1 0 1 0 1 0 1 1 1"/><path d="M190 148.5h50" stroke-dasharray="1 6 1 0 1 3 1 2 1 0 1 0 1 1 1 1 1 0 1 1 1 0 1 0 1 1 1 6 1 2 1 0 1 0 1 2 1 5 1"/><path d="M190 149.5h68" stroke-dasharray="1 3 1 0 1 0 1 2 1 0 1 0 1 1 1 2 1 0 1 8 1 0 1 5 1 0 1 1 1 1 1 4 1 2 1 3 1 16 1"/><path d="M190 150.5h42" stroke-dasharray="1 5 1 2 1 2 1 1 1 3 1 0 1 1 1 2 1 7 1 0 1 0 1 0 1 1 1 1 1 1 1"/><path d="M192 151.5h54" stroke-dasharray="1 0 1 3 1 2 1 1 1 2 1 3 1 2 1 1 1 0 1 1 1 0 1 1 1 0 1 5 1 6 1 4 1 2 1 2 1"/><path d="M190 152.5h49" stroke-dasharray="1 0 1 0 1 1 1 1 1 1 1 4 1 4 1 2 1 0 1 0 1 0 1 3 1 1 1 4 1 0 1 0 1 6 1 0 1 2 1"/><path d="M190 153.5h51" stroke-dasharray="1 0 1 1 1 3 1 0 1 0 1 0 1 0 1 1 1 2 1 0 1 4 1 4 1 0 1 2 1 0 1 4 1 0 1 0 1 6 1 3 1"/><path d="M191 154.5h46" stroke-dasharray="1 0 1 0 1 1 1 0 1 0 1 1 1 2 1 0 1 2 1 0 1 0 1 0 1 1 1 0 1 2 1 0 1 5 1 7 1 0 1 0 1 3 1"/></g>
<g stroke="#737fc0" stroke-width="1" fill="none"><path d="M248 94.5h1" stroke-dasharray="1"/><path d="M246 95.5h6" stroke-dasharray="1 4 1"/><path d="M242 96.5h11" stroke-dasharray="1 2 1 2 1 0 1 0 1 1 1"/><path d="M245 97.5h6" stroke-dasharray="1 3 1 0 1"/><path d="M243 98.5h11" stroke-dasharray="1 0 1 0 1 3 1 3 1"/><path d="M238 99.5h16" stroke-dasharray="1 1 1 0 1 1 1 4 1 4 1"/><path d="M237 100.5h13" stroke-dasharray="1 0 1 8 1 0 1 0 1"/><path d="M238 101.5h13" stroke-dasharray="1 0 1 7 1 1 1 0 1"/><path d="M236 102.5h12" stroke-dasharray="1 10 1"/><path d="M236 103.5h1" stroke-dasharray="1"/><path d="M231 104.5h5" stroke-dasharray="1 1 1 1 1"/><path d="M247 105.5h1" stroke-dasharray="1"/><path d="M247 106.5h2" stroke-dasharray="1 0 1"/><path d="M227 107.5h4" stroke-dasharray="1 1 1 0 1"/><path d="M225 108.5h23" stroke-dasharray="1 3 1 1 1 15 1"/><path d="M227 109.5h19" stroke-dasharray="1 0 1 15 1 0 1"/><path d="M225 110.5h22" stroke-dasharray="1 0 1 1 1 0 1 14 1 0 1 0 1"/><path d="M226 111.5h22" stroke-dasharray="1 16 1 3 1"/><path d="M225 112.5h20" stroke-dasharray="1 16 1 1 1"/><path d="M224 113.5h3" stroke-dasharray="1 1 1"/><path d="M222 114.5h22" stroke-dasharray="1 18 1 0 1 0 1"/><path d="M221 115.5h21" stroke-dasharray="1 1 1 1 1 15 1"/><path d="M224 116.5h18" stroke-dasharray="1 14 1 0 1 0 1"/><path d="M221 117.5h18" stroke-dasharray="1 0 1 14 1 0 1"/><path d="M217 118.5h21" stroke-dasharray="1 0 1 17 1 0 1"/><path d="M218 119.5h22" stroke-dasharray="1 4 1 13 1 1 1"/><path d="M217 120.5h21" stroke-dasharray="1 1 1 0 1 14 1 1 1"/><path d="M219 121.5h18" stroke-dasharray="1 2 1 12 1 0 1"/><path d="M219 122.5h20" stroke-dasharray="1 11 1 2 1 2 1 0 1"/><path d="M221 123.5h18" stroke-dasharray="1 7 1 0 1 1 1 0 1 3 1 0 1"/><path d="M212 124.5h27" stroke-dasharray="1 3 1 1 1 0 1 2 1 7 1 0 1 6 1"/><path d="M218 125.5h17" stroke-dasharray="1 4 1 0 1 0 1 2 1 0 1 1 1 1 1 0 1"/><path d="M212 126.5h21" stroke-dasharray="1 0 1 0 1 1 1 5 1 1 1 1 1 0 1 3 1 0 1"/><path d="M212 127.5h22" stroke-dasharray="1 8 1 1 1 0 1 0 1 2 1 0 1 1 1 1 1"/><path d="M211 128.5h22" stroke-dasharray="1 2 1 4 1 2 1 0 1 3 1 2 1 0 1 0 1"/><path d="M211 129.5h13" stroke-dasharray="1 0 1 0 1 3 1 0 1 4 1"/><path d="M209 130.5h17" stroke-dasharray="1 3 1 0 1 1 1 2 1 0 1 0 1 0 1 2 1"/><path d="M213 131.5h7" stroke-dasharray="1 0 1 4 1"/><path d="M211 132.5h20" stroke-dasharray="1 0 1 1 1 0 1 0 1 0 1 0 1 0 1 9 1 0 1"/><path d="M192 133.5h38" stroke-dasharray="1 13 1 4 1 0 1 2 1 3 1 4 1 4 1"/><path d="M193 134.5h36" stroke-dasharray="1 2 1 0 1 6 1 1 1 13 1 2 1 3 1 0 1"/><path d="M193 135.5h37" stroke-dasharray="1 1 1 5 1 0 1 0 1 2 1 4 1 12 1 4 1"/><path d="M193 136.5h32" stroke-dasharray="1 0 1 3 1 3 1 3 1 7 1 0 1 2 1 0 1 0 1 2 1 0 1"/><path d="M193 137.5h31" stroke-dasharray="1 1 1 0 1 2 1 12 1 0 1 1 1 2 1 2 1 0 1 0 1"/><path d="M193 138.5h29" stroke-dasharray="1 0 1 1 1 4 1 3 1 15 1"/><path d="M190 139.5h34" stroke-dasharray="1 0 1 9 1 5 1 2 1 1 1 5 1 2 1 1 1"/><path d="M190 140.5h35" stroke-dasharray="1 0 1 0 1 0 1 2 1 0 1 0 1 2 1 0 1 12 1 3 1 0 1 3 1"/><path d="M191 141.5h22" stroke-dasharray="1 2 1 0 1 0 1 2 1 1 1 0 1 6 1 2 1"/><path d="M192 142.5h22" stroke-dasharray="1 3 1 5 1 10 1"/><path d="M198 143.5h21" stroke-dasharray="1 6 1 9 1 2 1"/><path d="M191 144.5h18" stroke-dasharray="1 1 1 1 1 0 1 1 1 2 1 1 1 0 1 0 1 0 1 1 1"/><path d="M190 145.5h37" stroke-dasharray="1 1 1 0 1 0 1 0 1 0 1 1 1 0 1 0 1 1 1 2 1 4 1 7 1 1 1 5 1"/><path d="M191 146.5h39" stroke-dasharray="1 2 1 0 1 0 1 1 1 0 1 4 1 1 1 3 1 0 1 6 1 3 1 0 1 2 1 2 1"/><path d="M190 147.5h25" stroke-dasharray="1 3 1 2 1 2 1 2 1 3 1 2 1 1 1 1 1"/><path d="M191 148.5h31" stroke-dasharray="1 0 1 0 1 1 1 0 1 2 1 0 1 0 1 1 1 0 1 3 1 1 1 8 1 0 1 0 1"/><path d="M191 149.5h37" stroke-dasharray="1 0 1 0 1 3 1 0 1 3 1 1 1 0 1 3 1 0 1 1 1 1 1 5 1 6 1"/><path d="M191 150.5h28" stroke-dasharray="1 0 1 1 1 3 1 1 1 2 1 1 1 0 1 3 1 7 1"/><path d="M190 151.5h47" stroke-dasharray="1 0 1 2 1 1 1 1 1 0 1 1 1 2 1 1 1 1 1 13 1 13 1"/><path d="M195 152.5h28" stroke-dasharray="1 1 1 1 1 0 1 0 1 0 1 1 1 0 1 1 1 1 1 6 1 0 1 4 1"/><path d="M192 153.5h35" stroke-dasharray="1 1 1 1 1 7 1 0 1 2 1 0 1 4 1 4 1 6 1"/><path d="M190 154.5h24" stroke-dasharray="1 3 1 3 1 1 1 0 1 2 1 0 1 7 1"/></g>
<g stroke="#5767b0" stroke-width="1" fill="none"><path d="M247 98.5h1" stroke-dasharray="1"/><path d="M233 106.5h13" stroke-dasharray="1 11 1"/><path d="M243 110.5h1" stroke-dasharray="1"/><path d="M227 112.5h15" stroke-dasharray="1 13 1"/><path d="M224 115.5h1" stroke-dasharray="1"/><path d="M224 118.5h1" stroke-dasharray="1"/><path d="M222 119.5h15" stroke-dasharray="1 13 1"/><path d="M221 121.5h1" stroke-dasharray="1"/><path d="M233 122.5h1" stroke-dasharray="1"/><path d="M217 125.5h1" stroke-dasharray="1"/><path d="M219 126.5h1" stroke-dasharray="1"/><path d="M220 128.5h1" stroke-dasharray="1"/><path d="M222 129.5h1" stroke-dasharray="1"/><path d="M194 144.5h1" stroke-dasharray="1"/><path d="M203 146.5h1" stroke-dasharray="1"/><path d="M192 147.5h10" stroke-dasharray="1 2 1 5 1"/><path d="M194 148.5h1" stroke-dasharray="1"/><path d="M193 150.5h15" stroke-dasharray="1 1 1 1 1 3 1 5 1"/><path d="M195 151.5h13" stroke-dasharray="1 7 1 3 1"/><path d="M193 152.5h14" stroke-dasharray="1 12 1"/><path d="M195 153.5h8" stroke-dasharray="1 6 1"/></g>
<g stroke="#74b4e8" stroke-width="1" fill="none"><path d="M246 99.5h1" stroke-dasharray="1"/><path d="M245 100.5h1" stroke-dasharray="1"/><path d="M240 101.5h7" stroke-dasharray="1 2 1 0 1 1 1"/><path d="M243 102.5h3" stroke-dasharray="1 1 1"/><path d="M238 103.5h3" stroke-dasharray="1 0 1 0 1"/><path d="M237 104.5h9" stroke-dasharray="1 3 1 1 1 1 1"/><path d="M235 105.5h8" stroke-dasharray="1 0 1 5 1"/><path d="M235 106.5h5" stroke-dasharray="1 2 1 0 1"/><path d="M233 107.5h12" stroke-dasharray="1 1 1 3 1 0 1 3 1"/><path d="M235 108.5h9" stroke-dasharray="1 0 1 0 1 3 1 1 1"/><path d="M231 109.5h8" stroke-dasharray="1 5 1 0 1"/><path d="M230 110.5h11" stroke-dasharray="1 4 1 3 1 0 1"/><path d="M229 111.5h10" stroke-dasharray="1 3 1 4 1"/><path d="M228 112.5h13" stroke-dasharray="1 2 1 2 1 4 1 0 1"/><path d="M227 113.5h12" stroke-dasharray="1 3 1 2 1 0 1 2 1"/><path d="M229 114.5h7" stroke-dasharray="1 1 1 3 1"/><path d="M227 115.5h12" stroke-dasharray="1 1 1 0 1 4 1 0 1 1 1"/><path d="M225 116.5h13" stroke-dasharray="1 4 1 0 1 0 1 1 1 0 1 0 1 0 1"/><path d="M227 117.5h8" stroke-dasharray="1 0 1 0 1 2 1 1 1"/><path d="M226 118.5h10" stroke-dasharray="1 1 1 0 1 1 1 3 1"/><path d="M228 119.5h7" stroke-dasharray="1 0 1 4 1"/><path d="M224 122.5h5" stroke-dasharray="1 1 1 0 1 0 1"/><path d="M224 123.5h5" stroke-dasharray="1 2 1 0 1"/><path d="M223 124.5h4" stroke-dasharray="1 0 1 1 1"/></g>
<g stroke="#56a2e0" stroke-width="1" fill="none"><path d="M243 100.5h4" stroke-dasharray="1 0 1 1 1"/><path d="M241 101.5h2" stroke-dasharray="1 0 1"/><path d="M241 102.5h2" stroke-dasharray="1 0 1"/><path d="M242 103.5h4" stroke-dasharray="1 0 1 1 1"/><path d="M238 104.5h7" stroke-dasharray="1 0 1 2 1 1 1"/><path d="M240 105.5h5" stroke-dasharray="1 2 1 0 1"/><path d="M234 106.5h11" stroke-dasharray="1 2 1 2 1 0 1 0 1 0 1 0 1"/><path d="M236 107.5h8" stroke-dasharray="1 0 1 0 1 2 1 0 1 0 1"/><path d="M238 108.5h5" stroke-dasharray="1 0 1 0 1 1 1"/><path d="M233 109.5h9" stroke-dasharray="1 0 1 0 1 0 1 2 1 0 1 0 1"/><path d="M232 110.5h10" stroke-dasharray="1 0 1 3 1 0 1 2 1"/><path d="M230 111.5h11" stroke-dasharray="1 0 1 0 1 1 1 0 1 1 1 2 1"/><path d="M229 112.5h10" stroke-dasharray="1 0 1 2 1 1 1 2 1"/><path d="M228 113.5h13" stroke-dasharray="1 0 1 0 1 1 1 3 1 3 1"/><path d="M233 114.5h7" stroke-dasharray="1 2 1 1 1 0 1"/><path d="M226 115.5h12" stroke-dasharray="1 4 1 0 1 4 1"/><path d="M226 116.5h3" stroke-dasharray="1 0 1 0 1"/><path d="M230 117.5h6" stroke-dasharray="1 0 1 1 1 1 1"/><path d="M225 118.5h10" stroke-dasharray="1 4 1 3 1"/><path d="M224 119.5h10" stroke-dasharray="1 0 1 0 1 0 1 5 1"/><path d="M224 120.5h10" stroke-dasharray="1 0 1 1 1 0 1 3 1 0 1"/><path d="M223 121.5h10" stroke-dasharray="1 0 1 2 1 2 1 1 1"/><path d="M223 122.5h8" stroke-dasharray="1 1 1 3 1 0 1"/><path d="M223 123.5h4" stroke-dasharray="1 2 1"/><path d="M225 124.5h3" stroke-dasharray="1 1 1"/></g>
<g stroke="#4a94d8" stroke-width="1" fill="none"><path d="M245 101.5h1" stroke-dasharray="1"/><path d="M239 102.5h6" stroke-dasharray="1 0 1 3 1"/><path d="M241 103.5h4" stroke-dasharray="1 2 1"/><path d="M240 104.5h1" stroke-dasharray="1"/><path d="M237 105.5h5" stroke-dasharray="1 0 1 0 1 1 1"/><path d="M236 106.5h1" stroke-dasharray="1"/><path d="M234 107.5h1" stroke-dasharray="1"/><path d="M232 108.5h3" stroke-dasharray="1 0 1 0 1"/><path d="M232 109.5h11" stroke-dasharray="1 9 1"/><path d="M231 110.5h12" stroke-dasharray="1 2 1 1 1 5 1"/><path d="M236 111.5h6" stroke-dasharray="1 2 1 1 1"/><path d="M232 112.5h6" stroke-dasharray="1 3 1 0 1"/><path d="M233 113.5h7" stroke-dasharray="1 3 1 1 1"/><path d="M226 114.5h12" stroke-dasharray="1 0 1 0 1 1 1 1 1 1 1 2 1"/><path d="M228 115.5h7" stroke-dasharray="1 4 1 0 1"/><path d="M229 116.5h5" stroke-dasharray="1 3 1"/><path d="M225 117.5h12" stroke-dasharray="1 0 1 9 1"/><path d="M227 118.5h7" stroke-dasharray="1 4 1 0 1"/><path d="M230 119.5h3" stroke-dasharray="1 0 1 0 1"/><path d="M226 120.5h6" stroke-dasharray="1 2 1 0 1 0 1"/><path d="M225 121.5h7" stroke-dasharray="1 0 1 1 1 0 1 1 1"/><path d="M225 123.5h1" stroke-dasharray="1"/></g>
</g>
<line x1="191.3" y1="154.5" x2="228.8" y2="154.5" stroke="#8cc0b4" stroke-width="1" stroke-opacity="0.8"/>
<rect x="190.8" y="48.5" width="102.7" height="106.7" fill="none" stroke="#a8a8a8" stroke-width="1"/>
<line x1="187.6" y1="155.2" x2="190.8" y2="155.2" stroke="#111" stroke-width="1.2"/>
<line x1="189.2" y1="144.49" x2="190.8" y2="144.49" stroke="#333" stroke-width="1"/>
<line x1="189.2" y1="138.23" x2="190.8" y2="138.23" stroke="#333" stroke-width="1"/>
<line x1="189.2" y1="133.79" x2="190.8" y2="133.79" stroke="#333" stroke-width="1"/>
<line x1="189.2" y1="130.34" x2="190.8" y2="130.34" stroke="#333" stroke-width="1"/>
<line x1="189.2" y1="127.52" x2="190.8" y2="127.52" stroke="#333" stroke-width="1"/>
<line x1="189.2" y1="125.14" x2="190.8" y2="125.14" stroke="#333" stroke-width="1"/>
<line x1="189.2" y1="123.08" x2="190.8" y2="123.08" stroke="#333" stroke-width="1"/>
<line x1="189.2" y1="121.26" x2="190.8" y2="121.26" stroke="#333" stroke-width="1"/>
<text x="172.87" y="158.3" font-size="8.9" fill="#222" textLength="10.71" lengthAdjust="spacingAndGlyphs">10</text>
<text x="184.5" y="154.6" font-size="6.2" fill="#222">0</text>
<line x1="187.6" y1="119.63" x2="190.8" y2="119.63" stroke="#111" stroke-width="1.2"/>
<line x1="189.2" y1="108.93" x2="190.8" y2="108.93" stroke="#333" stroke-width="1"/>
<line x1="189.2" y1="102.66" x2="190.8" y2="102.66" stroke="#333" stroke-width="1"/>
<line x1="189.2" y1="98.22" x2="190.8" y2="98.22" stroke="#333" stroke-width="1"/>
<line x1="189.2" y1="94.77" x2="190.8" y2="94.77" stroke="#333" stroke-width="1"/>
<line x1="189.2" y1="91.96" x2="190.8" y2="91.96" stroke="#333" stroke-width="1"/>
<line x1="189.2" y1="89.58" x2="190.8" y2="89.58" stroke="#333" stroke-width="1"/>
<line x1="189.2" y1="87.51" x2="190.8" y2="87.51" stroke="#333" stroke-width="1"/>
<line x1="189.2" y1="85.69" x2="190.8" y2="85.69" stroke="#333" stroke-width="1"/>
<text x="172.87" y="122.73" font-size="8.9" fill="#222" textLength="10.71" lengthAdjust="spacingAndGlyphs">10</text>
<text x="184.5" y="119.03" font-size="6.2" fill="#222">1</text>
<line x1="187.6" y1="84.07" x2="190.8" y2="84.07" stroke="#111" stroke-width="1.2"/>
<line x1="189.2" y1="73.36" x2="190.8" y2="73.36" stroke="#333" stroke-width="1"/>
<line x1="189.2" y1="67.1" x2="190.8" y2="67.1" stroke="#333" stroke-width="1"/>
<line x1="189.2" y1="62.65" x2="190.8" y2="62.65" stroke="#333" stroke-width="1"/>
<line x1="189.2" y1="59.21" x2="190.8" y2="59.21" stroke="#333" stroke-width="1"/>
<line x1="189.2" y1="56.39" x2="190.8" y2="56.39" stroke="#333" stroke-width="1"/>
<line x1="189.2" y1="54.01" x2="190.8" y2="54.01" stroke="#333" stroke-width="1"/>
<line x1="189.2" y1="51.95" x2="190.8" y2="51.95" stroke="#333" stroke-width="1"/>
<line x1="189.2" y1="50.13" x2="190.8" y2="50.13" stroke="#333" stroke-width="1"/>
<text x="172.87" y="87.17" font-size="8.9" fill="#222" textLength="10.71" lengthAdjust="spacingAndGlyphs">10</text>
<text x="184.5" y="83.47" font-size="6.2" fill="#222">2</text>
<line x1="187.6" y1="48.5" x2="190.8" y2="48.5" stroke="#111" stroke-width="1.2"/>
<text x="172.87" y="51.6" font-size="8.9" fill="#222" textLength="10.71" lengthAdjust="spacingAndGlyphs">10</text>
<text x="184.5" y="47.9" font-size="6.2" fill="#222">3</text>
<line x1="190.8" y1="155.2" x2="190.8" y2="158.6" stroke="#111" stroke-width="1.2"/>
<line x1="201.11" y1="155.2" x2="201.11" y2="156.9" stroke="#333" stroke-width="1"/>
<line x1="207.13" y1="155.2" x2="207.13" y2="156.9" stroke="#333" stroke-width="1"/>
<line x1="211.41" y1="155.2" x2="211.41" y2="156.9" stroke="#333" stroke-width="1"/>
<line x1="214.73" y1="155.2" x2="214.73" y2="156.9" stroke="#333" stroke-width="1"/>
<line x1="217.44" y1="155.2" x2="217.44" y2="156.9" stroke="#333" stroke-width="1"/>
<line x1="219.73" y1="155.2" x2="219.73" y2="156.9" stroke="#333" stroke-width="1"/>
<line x1="221.72" y1="155.2" x2="221.72" y2="156.9" stroke="#333" stroke-width="1"/>
<line x1="223.47" y1="155.2" x2="223.47" y2="156.9" stroke="#333" stroke-width="1"/>
<text x="183.76" y="170.8" font-size="8.9" fill="#222" textLength="10.82" lengthAdjust="spacingAndGlyphs">10</text>
<text x="194.7" y="166.9" font-size="6.2" fill="#222">0</text>
<line x1="225.03" y1="155.2" x2="225.03" y2="158.6" stroke="#111" stroke-width="1.2"/>
<line x1="235.34" y1="155.2" x2="235.34" y2="156.9" stroke="#333" stroke-width="1"/>
<line x1="241.37" y1="155.2" x2="241.37" y2="156.9" stroke="#333" stroke-width="1"/>
<line x1="245.64" y1="155.2" x2="245.64" y2="156.9" stroke="#333" stroke-width="1"/>
<line x1="248.96" y1="155.2" x2="248.96" y2="156.9" stroke="#333" stroke-width="1"/>
<line x1="251.67" y1="155.2" x2="251.67" y2="156.9" stroke="#333" stroke-width="1"/>
<line x1="253.96" y1="155.2" x2="253.96" y2="156.9" stroke="#333" stroke-width="1"/>
<line x1="255.95" y1="155.2" x2="255.95" y2="156.9" stroke="#333" stroke-width="1"/>
<line x1="257.7" y1="155.2" x2="257.7" y2="156.9" stroke="#333" stroke-width="1"/>
<text x="217.99" y="170.8" font-size="8.9" fill="#222" textLength="10.82" lengthAdjust="spacingAndGlyphs">10</text>
<text x="228.93" y="166.9" font-size="6.2" fill="#222">1</text>
<line x1="259.27" y1="155.2" x2="259.27" y2="158.6" stroke="#111" stroke-width="1.2"/>
<line x1="269.57" y1="155.2" x2="269.57" y2="156.9" stroke="#333" stroke-width="1"/>
<line x1="275.6" y1="155.2" x2="275.6" y2="156.9" stroke="#333" stroke-width="1"/>
<line x1="279.88" y1="155.2" x2="279.88" y2="156.9" stroke="#333" stroke-width="1"/>
<line x1="283.19" y1="155.2" x2="283.19" y2="156.9" stroke="#333" stroke-width="1"/>
<line x1="285.91" y1="155.2" x2="285.91" y2="156.9" stroke="#333" stroke-width="1"/>
<line x1="288.2" y1="155.2" x2="288.2" y2="156.9" stroke="#333" stroke-width="1"/>
<line x1="290.18" y1="155.2" x2="290.18" y2="156.9" stroke="#333" stroke-width="1"/>
<line x1="291.93" y1="155.2" x2="291.93" y2="156.9" stroke="#333" stroke-width="1"/>
<text x="252.23" y="170.8" font-size="8.9" fill="#222" textLength="10.82" lengthAdjust="spacingAndGlyphs">10</text>
<text x="263.17" y="166.9" font-size="6.2" fill="#222">2</text>
<line x1="293.5" y1="155.2" x2="293.5" y2="158.6" stroke="#111" stroke-width="1.2"/>
<text x="286.46" y="170.8" font-size="8.9" fill="#222" textLength="10.82" lengthAdjust="spacingAndGlyphs">10</text>
<text x="297.4" y="166.9" font-size="6.2" fill="#222">3</text>
<line x1="84.5" y1="47.9" x2="84.5" y2="153.9" stroke="#5a5a5a" stroke-width="1"/>
<line x1="64.6" y1="131.5" x2="165.5" y2="131.5" stroke="#555" stroke-width="1"/>
<line x1="210.5" y1="48.5" x2="210.5" y2="155.2" stroke="#555" stroke-width="1"/>
<line x1="190.8" y1="133.5" x2="293.5" y2="133.5" stroke="#555" stroke-width="1"/>
<text x="95.15" y="37.4" font-size="12.6" fill="#2a2a2a" textLength="41.1" lengthAdjust="spacingAndGlyphs">Control</text>
<text x="197.4" y="40.4" font-size="11.6" fill="#2a2a2a" textLength="87" lengthAdjust="spacingAndGlyphs">IGF-1 100ng/mL</text>
<text x="123.36" y="62.7" font-size="11.3" fill="#2a2a2a" textLength="30.82" lengthAdjust="spacingAndGlyphs">5.63%</text>
<text x="246.16" y="64" font-size="10.5" fill="#2a2a2a" textLength="37.23" lengthAdjust="spacingAndGlyphs">12.65%</text>
<line x1="39.8" y1="46.7" x2="39.8" y2="165.7" stroke="#111" stroke-width="1.9"/>
<text transform="translate(32.05,120) rotate(-90)" x="-0.54" y="0" font-size="15.25" fill="#222" textLength="33.4" lengthAdjust="spacingAndGlyphs">CD42b</text>
<line x1="59" y1="186.3" x2="296" y2="186.3" stroke="#111" stroke-width="1.8"/>
<text x="166.17" y="206" font-size="14.8" fill="#222" textLength="26.85" lengthAdjust="spacingAndGlyphs">CD41</text>
<line x1="367.5" y1="139.2" x2="372" y2="139.2" stroke="#111" stroke-width="1.6"/>
<text x="362.93" y="143.01" font-size="10.9" fill="#2a2a2a" text-anchor="end">0</text>
<line x1="367.5" y1="115.6" x2="372" y2="115.6" stroke="#111" stroke-width="1.6"/>
<text x="362.96" y="119.41" font-size="10.9" fill="#2a2a2a" text-anchor="end">5</text>
<line x1="367.5" y1="91.9" x2="372" y2="91.9" stroke="#111" stroke-width="1.6"/>
<text x="362.93" y="95.72" font-size="10.9" fill="#2a2a2a" text-anchor="end">10</text>
<line x1="367.5" y1="68.1" x2="372" y2="68.1" stroke="#111" stroke-width="1.6"/>
<text x="362.96" y="71.91" font-size="10.9" fill="#2a2a2a" text-anchor="end">15</text>
<line x1="367.5" y1="44.6" x2="372" y2="44.6" stroke="#111" stroke-width="1.6"/>
<text x="362.93" y="48.41" font-size="10.9" fill="#2a2a2a" text-anchor="end">20</text>
<rect x="379" y="113.9" width="31.8" height="25.3" fill="#2f5092"/>
<line x1="394.9" y1="109.4" x2="394.9" y2="113.9" stroke="#111" stroke-width="1.8"/>
<line x1="387.43" y1="110.4" x2="402.37" y2="110.4" stroke="#111" stroke-width="2"/>
<rect x="423.7" y="104" width="32.8" height="35.2" fill="#69a83c"/>
<line x1="440.1" y1="100.3" x2="440.1" y2="104" stroke="#111" stroke-width="1.8"/>
<line x1="432.39" y1="101.3" x2="447.81" y2="101.3" stroke="#111" stroke-width="2"/>
<text x="440.1" y="102.1" font-size="12.32" fill="#222" text-anchor="middle">*</text>
<rect x="470" y="73.6" width="32.3" height="65.6" fill="#336a50"/>
<line x1="486.15" y1="68.2" x2="486.15" y2="73.6" stroke="#111" stroke-width="1.8"/>
<line x1="478.56" y1="69.2" x2="493.74" y2="69.2" stroke="#111" stroke-width="2"/>
<text x="486.15" y="70.1" font-size="12.32" fill="#222" text-anchor="middle">**</text>
<line x1="394.9" y1="139.2" x2="394.9" y2="143.5" stroke="#111" stroke-width="1.6"/>
<line x1="440.1" y1="139.2" x2="440.1" y2="143.5" stroke="#111" stroke-width="1.6"/>
<line x1="486.2" y1="139.2" x2="486.2" y2="143.5" stroke="#111" stroke-width="1.6"/>
<line x1="372" y1="40.6" x2="372" y2="140.1" stroke="#111" stroke-width="1.9"/>
<line x1="367.5" y1="139.2" x2="505.5" y2="139.2" stroke="#111" stroke-width="1.7"/>
<text transform="translate(324.76,128.5) rotate(-90)" x="-0.58" y="0" font-size="14.84" fill="#222" textLength="77.81" lengthAdjust="spacingAndGlyphs">Culture-derived</text>
<text transform="translate(340.86,119.7) rotate(-90)" x="-0.75" y="0" font-size="14.16" fill="#222" textLength="61.17" lengthAdjust="spacingAndGlyphs">platelets(%)</text>
<text transform="translate(399.7,155.3) rotate(-45)" x="0" y="0" font-size="11.9" fill="#222" text-anchor="end">Control</text>
<text transform="translate(444.9,155.3) rotate(-45)" x="0" y="0" font-size="11.9" fill="#222" text-anchor="end">10ng/mL</text>
<text transform="translate(491,155.3) rotate(-45)" x="0" y="0" font-size="11.9" fill="#222" text-anchor="end">100ng/mL</text>
<line x1="366.2" y1="347.8" x2="370.7" y2="347.8" stroke="#111" stroke-width="1.6"/>
<text x="361.73" y="351.62" font-size="10.9" fill="#2a2a2a" text-anchor="end">0</text>
<line x1="366.2" y1="316.9" x2="370.7" y2="316.9" stroke="#111" stroke-width="1.6"/>
<text x="361.83" y="320.71" font-size="10.9" fill="#2a2a2a" text-anchor="end">1</text>
<line x1="366.2" y1="286" x2="370.7" y2="286" stroke="#111" stroke-width="1.6"/>
<text x="361.85" y="289.81" font-size="10.9" fill="#2a2a2a" text-anchor="end">2</text>
<line x1="366.2" y1="254.9" x2="370.7" y2="254.9" stroke="#111" stroke-width="1.6"/>
<text x="361.78" y="258.72" font-size="10.9" fill="#2a2a2a" text-anchor="end">3</text>
<rect x="377.1" y="316.5" width="32.3" height="31.3" fill="#dc8a1a"/>
<line x1="393.25" y1="313.3" x2="393.25" y2="316.5" stroke="#111" stroke-width="1.8"/>
<line x1="385.66" y1="314.3" x2="400.84" y2="314.3" stroke="#111" stroke-width="2"/>
<rect x="421.5" y="304" width="32.4" height="43.8" fill="#69a83c"/>
<line x1="437.7" y1="299.8" x2="437.7" y2="304" stroke="#111" stroke-width="1.8"/>
<line x1="430.09" y1="300.8" x2="445.31" y2="300.8" stroke="#111" stroke-width="2"/>
<text x="437.7" y="301.6" font-size="12.32" fill="#222" text-anchor="middle">*</text>
<rect x="466.5" y="289.8" width="31.8" height="58" fill="#336a50"/>
<line x1="482.4" y1="283.6" x2="482.4" y2="289.8" stroke="#111" stroke-width="1.8"/>
<line x1="474.93" y1="284.6" x2="489.87" y2="284.6" stroke="#111" stroke-width="2"/>
<text x="482.4" y="285.4" font-size="12.32" fill="#222" text-anchor="middle">**</text>
<line x1="392.7" y1="347.8" x2="392.7" y2="352.1" stroke="#111" stroke-width="1.6"/>
<line x1="437.6" y1="347.8" x2="437.6" y2="352.1" stroke="#111" stroke-width="1.6"/>
<line x1="482.3" y1="347.8" x2="482.3" y2="352.1" stroke="#111" stroke-width="1.6"/>
<line x1="370.7" y1="250.6" x2="370.7" y2="348.7" stroke="#111" stroke-width="1.9"/>
<line x1="366.2" y1="347.8" x2="505.5" y2="347.8" stroke="#111" stroke-width="1.7"/>
<text transform="translate(329.44,343.7) rotate(-90)" x="-0.55" y="0" font-size="12.34" fill="#222" textLength="90.96" lengthAdjust="spacingAndGlyphs">CD62P expression</text>
<text transform="translate(346.14,338.4) rotate(-90)" x="-0.75" y="0" font-size="12.34" fill="#222" textLength="79.71" lengthAdjust="spacingAndGlyphs">(fold induction)</text>
<text transform="translate(397.5,364.3) rotate(-45)" x="0" y="0" font-size="11.9" fill="#222" text-anchor="end">ADP</text>
<text transform="translate(442.4,364.3) rotate(-45)" x="0" y="0" font-size="11.9" fill="#222" text-anchor="end">ADP+IGF-1 10ng/mL</text>
<text transform="translate(487.1,364.3) rotate(-45)" x="0" y="0" font-size="11.9" fill="#222" text-anchor="end">ADP+IGF-1 100ng/mL</text>
<line x1="88.4" y1="595" x2="92.9" y2="595" stroke="#111" stroke-width="1.6"/>
<text x="84.35" y="598.99" font-size="11.4" fill="#2a2a2a" text-anchor="end">0</text>
<line x1="88.4" y1="567.6" x2="92.9" y2="567.6" stroke="#111" stroke-width="1.6"/>
<text x="84.38" y="571.59" font-size="11.4" fill="#2a2a2a" text-anchor="end">5</text>
<line x1="88.4" y1="540.1" x2="92.9" y2="540.1" stroke="#111" stroke-width="1.6"/>
<text x="84.35" y="544.09" font-size="11.4" fill="#2a2a2a" text-anchor="end">10</text>
<line x1="88.4" y1="512.7" x2="92.9" y2="512.7" stroke="#111" stroke-width="1.6"/>
<text x="84.38" y="516.69" font-size="11.4" fill="#2a2a2a" text-anchor="end">15</text>
<line x1="88.4" y1="484.9" x2="92.9" y2="484.9" stroke="#111" stroke-width="1.6"/>
<text x="84.35" y="488.89" font-size="11.4" fill="#2a2a2a" text-anchor="end">20</text>
<rect x="96.5" y="566.7" width="19.4" height="28.3" fill="#2f5092"/>
<line x1="106.2" y1="562.2" x2="106.2" y2="566.7" stroke="#111" stroke-width="1.8"/>
<line x1="101.64" y1="563.2" x2="110.76" y2="563.2" stroke="#111" stroke-width="2"/>
<rect x="123.9" y="519.6" width="18.8" height="75.4" fill="#b0102e"/>
<line x1="133.3" y1="513.2" x2="133.3" y2="519.6" stroke="#111" stroke-width="1.8"/>
<line x1="128.88" y1="514.2" x2="137.72" y2="514.2" stroke="#111" stroke-width="2"/>
<text x="133.3" y="514.9" font-size="12.32" fill="#222" text-anchor="middle">**</text>
<rect x="149.9" y="562.9" width="19.6" height="32.1" fill="#b0102e"/>
<line x1="159.7" y1="560.7" x2="159.7" y2="562.9" stroke="#111" stroke-width="1.8"/>
<line x1="155.09" y1="561.7" x2="164.31" y2="561.7" stroke="#111" stroke-width="2"/>
<text x="159.7" y="558.2" font-size="10" fill="#222" text-anchor="middle">##</text>
<rect x="177.3" y="538" width="18.7" height="57" fill="#b0102e"/>
<line x1="186.65" y1="532.5" x2="186.65" y2="538" stroke="#111" stroke-width="1.8"/>
<line x1="182.26" y1="533.5" x2="191.04" y2="533.5" stroke="#111" stroke-width="2"/>
<text x="186.65" y="530.2" font-size="10" fill="#222" text-anchor="middle">#</text>
<rect x="203.8" y="558" width="19.1" height="37" fill="#b0102e"/>
<line x1="213.35" y1="555" x2="213.35" y2="558" stroke="#111" stroke-width="1.8"/>
<line x1="208.86" y1="556" x2="217.84" y2="556" stroke="#111" stroke-width="2"/>
<text x="213.35" y="553.1" font-size="10" fill="#222" text-anchor="middle">##</text>
<line x1="106.2" y1="595" x2="106.2" y2="599.3" stroke="#111" stroke-width="1.6"/>
<line x1="133.3" y1="595" x2="133.3" y2="599.3" stroke="#111" stroke-width="1.6"/>
<line x1="159.7" y1="595" x2="159.7" y2="599.3" stroke="#111" stroke-width="1.6"/>
<line x1="186.6" y1="595" x2="186.6" y2="599.3" stroke="#111" stroke-width="1.6"/>
<line x1="213.3" y1="595" x2="213.3" y2="599.3" stroke="#111" stroke-width="1.6"/>
<line x1="92.9" y1="480.6" x2="92.9" y2="595.9" stroke="#111" stroke-width="1.9"/>
<line x1="88.4" y1="595" x2="227.5" y2="595" stroke="#111" stroke-width="1.7"/>
<text transform="translate(45.76,576) rotate(-90)" x="-0.58" y="0" font-size="14.03" fill="#222" textLength="77.71" lengthAdjust="spacingAndGlyphs">Culture-derived</text>
<text transform="translate(60.98,567.5) rotate(-90)" x="-0.76" y="0" font-size="13.09" fill="#222" textLength="61.98" lengthAdjust="spacingAndGlyphs">platelets(%)</text>
<text transform="translate(110.8,610.5) rotate(-45)" x="0" y="0" font-size="11.9" fill="#222" text-anchor="end">Control</text>
<text transform="translate(137.9,610.5) rotate(-45)" x="0" y="0" font-size="11.9" fill="#222" text-anchor="end">IGF-1</text>
<text transform="translate(164.3,610.5) rotate(-45)" x="0" y="0" font-size="11.9" fill="#222" text-anchor="end">IGF1+NVP</text>
<text transform="translate(191.2,610.5) rotate(-45)" x="0" y="0" font-size="11.9" fill="#222" text-anchor="end">IGF-1+U0126</text>
<text transform="translate(217.9,610.5) rotate(-45)" x="0" y="0" font-size="11.9" fill="#222" text-anchor="end">IGF-1+LY294002</text>
<line x1="366.1" y1="595.3" x2="370.6" y2="595.3" stroke="#111" stroke-width="1.6"/>
<text x="361.23" y="599.12" font-size="10.9" fill="#2a2a2a" text-anchor="end">0</text>
<line x1="366.1" y1="562.9" x2="370.6" y2="562.9" stroke="#111" stroke-width="1.6"/>
<text x="361.33" y="566.72" font-size="10.9" fill="#2a2a2a" text-anchor="end">1</text>
<line x1="366.1" y1="530.4" x2="370.6" y2="530.4" stroke="#111" stroke-width="1.6"/>
<text x="361.35" y="534.22" font-size="10.9" fill="#2a2a2a" text-anchor="end">2</text>
<line x1="366.1" y1="497.9" x2="370.6" y2="497.9" stroke="#111" stroke-width="1.6"/>
<text x="361.28" y="501.71" font-size="10.9" fill="#2a2a2a" text-anchor="end">3</text>
<rect x="373.8" y="562.2" width="20" height="33.1" fill="#2f5092"/>
<line x1="383.8" y1="558.6" x2="383.8" y2="562.2" stroke="#111" stroke-width="1.8"/>
<line x1="379.1" y1="559.6" x2="388.5" y2="559.6" stroke="#111" stroke-width="2"/>
<rect x="401" y="534.8" width="19.6" height="60.5" fill="#b0102e"/>
<line x1="410.8" y1="528.4" x2="410.8" y2="534.8" stroke="#111" stroke-width="1.8"/>
<line x1="406.19" y1="529.4" x2="415.41" y2="529.4" stroke="#111" stroke-width="2"/>
<text x="410.8" y="530.1" font-size="12.32" fill="#222" text-anchor="middle">**</text>
<rect x="427.8" y="562.2" width="19.6" height="33.1" fill="#b0102e"/>
<line x1="437.6" y1="560.6" x2="437.6" y2="562.2" stroke="#111" stroke-width="1.8"/>
<line x1="432.99" y1="561.6" x2="442.21" y2="561.6" stroke="#111" stroke-width="2"/>
<text x="437.6" y="559" font-size="10" fill="#222" text-anchor="middle">##</text>
<rect x="454.6" y="549.2" width="19.4" height="46.1" fill="#b0102e"/>
<line x1="464.3" y1="545.6" x2="464.3" y2="549.2" stroke="#111" stroke-width="1.8"/>
<line x1="459.74" y1="546.6" x2="468.86" y2="546.6" stroke="#111" stroke-width="2"/>
<text x="464.3" y="543.6" font-size="10" fill="#222" text-anchor="middle">#</text>
<rect x="481.2" y="560.2" width="19.6" height="35.1" fill="#b0102e"/>
<line x1="491" y1="557.2" x2="491" y2="560.2" stroke="#111" stroke-width="1.8"/>
<line x1="486.39" y1="558.2" x2="495.61" y2="558.2" stroke="#111" stroke-width="2"/>
<text x="491" y="555.3" font-size="10" fill="#222" text-anchor="middle">##</text>
<line x1="383.8" y1="595.3" x2="383.8" y2="599.6" stroke="#111" stroke-width="1.6"/>
<line x1="410.8" y1="595.3" x2="410.8" y2="599.6" stroke="#111" stroke-width="1.6"/>
<line x1="437.6" y1="595.3" x2="437.6" y2="599.6" stroke="#111" stroke-width="1.6"/>
<line x1="464.3" y1="595.3" x2="464.3" y2="599.6" stroke="#111" stroke-width="1.6"/>
<line x1="491" y1="595.3" x2="491" y2="599.6" stroke="#111" stroke-width="1.6"/>
<line x1="370.6" y1="493.3" x2="370.6" y2="596.2" stroke="#111" stroke-width="1.9"/>
<line x1="366.1" y1="595.3" x2="504.5" y2="595.3" stroke="#111" stroke-width="1.7"/>
<text transform="translate(328.58,590.9) rotate(-90)" x="-0.56" y="0" font-size="12.12" fill="#222" textLength="92.59" lengthAdjust="spacingAndGlyphs">CD62P expression</text>
<text transform="translate(345.79,583.5) rotate(-90)" x="-0.74" y="0" font-size="12.13" fill="#222" textLength="77.97" lengthAdjust="spacingAndGlyphs">(fold induction)</text>
<text transform="translate(388.4,610.8) rotate(-45)" x="0" y="0" font-size="11.9" fill="#222" text-anchor="end">Control</text>
<text transform="translate(415.4,610.8) rotate(-45)" x="0" y="0" font-size="11.9" fill="#222" text-anchor="end">IGF-1</text>
<text transform="translate(442.2,610.8) rotate(-45)" x="0" y="0" font-size="11.9" fill="#222" text-anchor="end">IGF-1+NVP</text>
<text transform="translate(468.9,610.8) rotate(-45)" x="0" y="0" font-size="11.9" fill="#222" text-anchor="end">IGF-1+U0126</text>
<text transform="translate(495.6,610.8) rotate(-45)" x="0" y="0" font-size="11.9" fill="#222" text-anchor="end">IGF-1+LY294002</text>
<defs><clipPath id="cbox"><rect x="67" y="253.7" width="137.1" height="144.4"/></clipPath><clipPath id="kI"><path d="M66 399L66 316.55L67 316.55L67 316.15L68 316.15L68 313.84L69 313.84L69 309.82L70 309.82L70 313.2L71 313.2L71 316.84L72 316.84L72 318.17L73 318.17L73 322.49L74 322.49L74 324.68L75 324.68L75 326.15L76 326.15L76 327.07L77 327.07L77 329.87L78 329.87L78 330.49L79 330.49L79 334.29L80 334.29L80 338.23L81 338.23L81 345.96L82 345.96L82 354.06L83 354.06L83 365.61L84 365.61L84 378.03L85 378.03L85 388.9L86 388.9L86 397L87 397L87 399L88 399L88 399L89 399L89 399Z"/></clipPath><clipPath id="kC"><path d="M66 399L66 370.21L67 370.21L67 369.35L68 369.35L68 368.47L69 368.47L69 364.28L70 364.28L70 367.24L71 367.24L71 364.24L72 364.24L72 358.88L73 358.88L73 356.75L74 356.75L74 352.24L75 352.24L75 347.29L76 347.29L76 346.2L77 346.2L77 340.89L78 340.89L78 337.51L79 337.51L79 333.48L80 333.48L80 329.05L81 329.05L81 318.96L82 318.96L82 314.73L83 314.73L83 310.52L84 310.52L84 309.13L85 309.13L85 304.25L86 304.25L86 302.64L87 302.64L87 296.58L88 296.58L88 288.26L89 288.26L89 282.22L90 282.22L90 276.29L91 276.29L91 275.19L92 275.19L92 273.92L93 273.92L93 265.6L94 265.6L94 271.23L95 271.23L95 279.81L96 279.81L96 289.12L97 289.12L97 292.15L98 292.15L98 298.82L99 298.82L99 304.68L100 304.68L100 310.32L101 310.32L101 318.43L102 318.43L102 325.75L103 325.75L103 336.05L104 336.05L104 342.31L105 342.31L105 353.37L106 353.37L106 363.7L107 363.7L107 369.31L108 369.31L108 370.14L109 370.14L109 373.74L110 373.74L110 378.08L111 378.08L111 382L112 382L112 383.13L113 383.13L113 385.86L114 385.86L114 386.25L115 386.25L115 389.42L116 389.42L116 390.43L117 390.43L117 390.75L118 390.75L118 392.29L119 392.29L119 393.59L120 393.59L120 394.4L121 394.4L121 395.45L122 395.45L122 396.48L123 396.48L123 397.17L124 397.17L124 398.07L125 398.07L125 399L126 399L126 399L127 399L127 399Z"/></clipPath><clipPath id="kA"><path d="M66 399L66 379.29L67 379.29L67 375.73L68 375.73L68 376.73L69 376.73L69 373.77L70 373.77L70 371.57L71 371.57L71 369.49L72 369.49L72 365.26L73 365.26L73 364.36L74 364.36L74 361.04L75 361.04L75 363.36L76 363.36L76 356.79L77 356.79L77 352.51L78 352.51L78 349L79 349L79 344.95L80 344.95L80 340.89L81 340.89L81 337.85L82 337.85L82 334.71L83 334.71L83 329.65L84 329.65L84 327.23L85 327.23L85 322.79L86 322.79L86 320.01L87 320.01L87 318.78L88 318.78L88 312.43L89 312.43L89 303.92L90 303.92L90 299.68L91 299.68L91 296.22L92 296.22L92 291.65L93 291.65L93 276.28L94 276.28L94 284.83L95 284.83L95 290.28L96 290.28L96 289.94L97 289.94L97 291.9L98 291.9L98 294.48L99 294.48L99 295.72L100 295.72L100 297.19L101 297.19L101 301.24L102 301.24L102 300.82L103 300.82L103 309.04L104 309.04L104 310.25L105 310.25L105 313L106 313L106 318.58L107 318.58L107 322.34L108 322.34L108 324.22L109 324.22L109 326.71L110 326.71L110 332.48L111 332.48L111 336.83L112 336.83L112 343.19L113 343.19L113 347.4L114 347.4L114 351.73L115 351.73L115 357.83L116 357.83L116 361.27L117 361.27L117 364.16L118 364.16L118 368.64L119 368.64L119 371.59L120 371.59L120 373.94L121 373.94L121 376.59L122 376.59L122 380.23L123 380.23L123 380.34L124 380.34L124 383.35L125 383.35L125 384.62L126 384.62L126 385.13L127 385.13L127 387.19L128 387.19L128 388.24L129 388.24L129 390.13L130 390.13L130 390.84L131 390.84L131 392.51L132 392.51L132 393.83L133 393.83L133 394.75L134 394.75L134 395.25L135 395.25L135 396.32L136 396.32L136 397.26L137 397.26L137 398.1L138 398.1L138 399L139 399L139 399L140 399L140 399Z"/></clipPath><clipPath id="kG"><path d="M66 399L66 384.73L67 384.73L67 383.81L68 383.81L68 383.51L69 383.51L69 381.55L70 381.55L70 378.75L71 378.75L71 378.2L72 378.2L72 376.28L73 376.28L73 375.31L74 375.31L74 371.08L75 371.08L75 369.74L76 369.74L76 366.91L77 366.91L77 365.51L78 365.51L78 361.37L79 361.37L79 358.78L80 358.78L80 353.15L81 353.15L81 354.33L82 354.33L82 346L83 346L83 346.3L84 346.3L84 341.26L85 341.26L85 337.02L86 337.02L86 333.45L87 333.45L87 329.59L88 329.59L88 327.01L89 327.01L89 322.13L90 322.13L90 319.56L91 319.56L91 311.1L92 311.1L92 307.3L93 307.3L93 299.85L94 299.85L94 301.03L95 301.03L95 296.75L96 296.75L96 298.8L97 298.8L97 299.75L98 299.75L98 298.26L99 298.26L99 301.77L100 301.77L100 302.81L101 302.81L101 306.81L102 306.81L102 309.08L103 309.08L103 308.79L104 308.79L104 311.04L105 311.04L105 313.32L106 313.32L106 316.03L107 316.03L107 317.72L108 317.72L108 317.41L109 317.41L109 319.73L110 319.73L110 322.65L111 322.65L111 326.06L112 326.06L112 329.63L113 329.63L113 332.91L114 332.91L114 338.69L115 338.69L115 338.76L116 338.76L116 342.32L117 342.32L117 346.55L118 346.55L118 348.19L119 348.19L119 350.92L120 350.92L120 353.08L121 353.08L121 355.69L122 355.69L122 354.88L123 354.88L123 359.81L124 359.81L124 359.93L125 359.93L125 362.82L126 362.82L126 365.81L127 365.81L127 367.87L128 367.87L128 370.48L129 370.48L129 371.98L130 371.98L130 374.13L131 374.13L131 376.12L132 376.12L132 376.89L133 376.89L133 379.89L134 379.89L134 380.37L135 380.37L135 381.8L136 381.8L136 384.98L137 384.98L137 385.63L138 385.63L138 386.9L139 386.9L139 389.51L140 389.51L140 390.02L141 390.02L141 391.22L142 391.22L142 391.64L143 391.64L143 392.62L144 392.62L144 393.24L145 393.24L145 394.11L146 394.11L146 395.11L147 395.11L147 396.07L148 396.07L148 396.78L149 396.78L149 397.31L150 397.31L150 397.59L151 397.59L151 398.12L152 398.12L152 398.54L153 398.54L153 399L154 399L154 399L155 399L155 399Z"/></clipPath></defs>
<g clip-path="url(#cbox)">
<path d="M66 399L66 387.07L67 387.07L67 386.82L68 386.82L68 384.9L69 384.9L69 385.2L70 385.2L70 385.03L71 385.03L71 383.9L72 383.9L72 382.36L73 382.36L73 381.47L74 381.47L74 379.63L75 379.63L75 378.48L76 378.48L76 377L77 377L77 374.27L78 374.27L78 372.39L79 372.39L79 371.22L80 371.22L80 368.54L81 368.54L81 368.01L82 368.01L82 365.82L83 365.82L83 363.95L84 363.95L84 359.87L85 359.87L85 358.87L86 358.87L86 354L87 354L87 351.11L88 351.11L88 349.02L89 349.02L89 346.24L90 346.24L90 341.38L91 341.38L91 338.27L92 338.27L92 334.69L93 334.69L93 327.8L94 327.8L94 324.21L95 324.21L95 323.04L96 323.04L96 320.61L97 320.61L97 318.04L98 318.04L98 317.75L99 317.75L99 315.88L100 315.88L100 315.92L101 315.92L101 312.64L102 312.64L102 312.97L103 312.97L103 313.67L104 313.67L104 311.85L105 311.85L105 306.01L106 306.01L106 306.12L107 306.12L107 316.16L108 316.16L108 310.39L109 310.39L109 297.45L110 297.45L110 299.59L111 299.59L111 309.7L112 309.7L112 300.31L113 300.31L113 291.03L114 291.03L114 293.03L115 293.03L115 300.57L116 300.57L116 298.49L117 298.49L117 292.76L118 292.76L118 281.94L119 281.94L119 282.87L120 282.87L120 289.99L121 289.99L121 294.87L122 294.87L122 302.66L123 302.66L123 303.44L124 303.44L124 309.95L125 309.95L125 316.65L126 316.65L126 330.04L127 330.04L127 334.34L128 334.34L128 340.25L129 340.25L129 345.79L130 345.79L130 347.45L131 347.45L131 354.21L132 354.21L132 356.53L133 356.53L133 363.74L134 363.74L134 368.46L135 368.46L135 371.15L136 371.15L136 373.88L137 373.88L137 377.53L138 377.53L138 380.4L139 380.4L139 383.16L140 383.16L140 384.19L141 384.19L141 386.09L142 386.09L142 387.01L143 387.01L143 388.63L144 388.63L144 390.01L145 390.01L145 391.46L146 391.46L146 391.78L147 391.78L147 392.8L148 392.8L148 393.85L149 393.85L149 394.44L150 394.44L150 395.23L151 395.23L151 396.19L152 396.19L152 396.64L153 396.64L153 396.96L154 396.96L154 397.14L155 397.14L155 397.45L156 397.45L156 397.72L157 397.72L157 398.1L158 398.1L158 398.43L159 398.43L159 398.82L160 398.82L160 399L161 399L161 399Z" fill="#98b6a7"/>
<path d="M66 399L66 316.55L67 316.55L67 316.15L68 316.15L68 313.84L69 313.84L69 309.82L70 309.82L70 313.2L71 313.2L71 316.84L72 316.84L72 318.17L73 318.17L73 322.49L74 322.49L74 324.68L75 324.68L75 326.15L76 326.15L76 327.07L77 327.07L77 329.87L78 329.87L78 330.49L79 330.49L79 334.29L80 334.29L80 338.23L81 338.23L81 345.96L82 345.96L82 354.06L83 354.06L83 365.61L84 365.61L84 378.03L85 378.03L85 388.9L86 388.9L86 397L87 397L87 399L88 399L88 399L89 399L89 399Z" fill="#d98a9a"/>
<path d="M66 316.55 L67 316.55 L67 316.15 L68 316.15 L68 313.84 L69 313.84 L69 309.82 L70 309.82 L70 313.2 L71 313.2 L71 316.84 L72 316.84 L72 318.17 L73 318.17 L73 322.49 L74 322.49 L74 324.68 L75 324.68 L75 326.15 L76 326.15 L76 327.07 L77 327.07 L77 329.87 L78 329.87 L78 330.49 L79 330.49 L79 334.29 L80 334.29 L80 338.23 L81 338.23 L81 345.96 L82 345.96 L82 354.06 L83 354.06 L83 365.61 L84 365.61 L84 378.03 L85 378.03 L85 388.9 L86 388.9 L86 397 L87 397 L87 399 L88 399 L88 399 L89 399" fill="none" stroke="#c01040" stroke-width="1.5"/>
<path d="M66 399L66 370.21L67 370.21L67 369.35L68 369.35L68 368.47L69 368.47L69 364.28L70 364.28L70 367.24L71 367.24L71 364.24L72 364.24L72 358.88L73 358.88L73 356.75L74 356.75L74 352.24L75 352.24L75 347.29L76 347.29L76 346.2L77 346.2L77 340.89L78 340.89L78 337.51L79 337.51L79 333.48L80 333.48L80 329.05L81 329.05L81 318.96L82 318.96L82 314.73L83 314.73L83 310.52L84 310.52L84 309.13L85 309.13L85 304.25L86 304.25L86 302.64L87 302.64L87 296.58L88 296.58L88 288.26L89 288.26L89 282.22L90 282.22L90 276.29L91 276.29L91 275.19L92 275.19L92 273.92L93 273.92L93 265.6L94 265.6L94 271.23L95 271.23L95 279.81L96 279.81L96 289.12L97 289.12L97 292.15L98 292.15L98 298.82L99 298.82L99 304.68L100 304.68L100 310.32L101 310.32L101 318.43L102 318.43L102 325.75L103 325.75L103 336.05L104 336.05L104 342.31L105 342.31L105 353.37L106 353.37L106 363.7L107 363.7L107 369.31L108 369.31L108 370.14L109 370.14L109 373.74L110 373.74L110 378.08L111 378.08L111 382L112 382L112 383.13L113 383.13L113 385.86L114 385.86L114 386.25L115 386.25L115 389.42L116 389.42L116 390.43L117 390.43L117 390.75L118 390.75L118 392.29L119 392.29L119 393.59L120 393.59L120 394.4L121 394.4L121 395.45L122 395.45L122 396.48L123 396.48L123 397.17L124 397.17L124 398.07L125 398.07L125 399L126 399L126 399L127 399L127 399Z" fill="#3a55a2" fill-opacity="0.9"/>
<path d="M66 370.21 L67 370.21 L67 369.35 L68 369.35 L68 368.47 L69 368.47 L69 364.28 L70 364.28 L70 367.24 L71 367.24 L71 364.24 L72 364.24 L72 358.88 L73 358.88 L73 356.75 L74 356.75 L74 352.24 L75 352.24 L75 347.29 L76 347.29 L76 346.2 L77 346.2 L77 340.89 L78 340.89 L78 337.51 L79 337.51 L79 333.48 L80 333.48 L80 329.05 L81 329.05 L81 318.96 L82 318.96 L82 314.73 L83 314.73 L83 310.52 L84 310.52 L84 309.13 L85 309.13 L85 304.25 L86 304.25 L86 302.64 L87 302.64 L87 296.58 L88 296.58 L88 288.26 L89 288.26 L89 282.22 L90 282.22 L90 276.29 L91 276.29 L91 275.19 L92 275.19 L92 273.92 L93 273.92 L93 265.6 L94 265.6 L94 271.23 L95 271.23 L95 279.81 L96 279.81 L96 289.12 L97 289.12 L97 292.15 L98 292.15 L98 298.82 L99 298.82 L99 304.68 L100 304.68 L100 310.32 L101 310.32 L101 318.43 L102 318.43 L102 325.75 L103 325.75 L103 336.05 L104 336.05 L104 342.31 L105 342.31 L105 353.37 L106 353.37 L106 363.7 L107 363.7 L107 369.31 L108 369.31 L108 370.14 L109 370.14 L109 373.74 L110 373.74 L110 378.08 L111 378.08 L111 382 L112 382 L112 383.13 L113 383.13 L113 385.86 L114 385.86 L114 386.25 L115 386.25 L115 389.42 L116 389.42 L116 390.43 L117 390.43 L117 390.75 L118 390.75 L118 392.29 L119 392.29 L119 393.59 L120 393.59 L120 394.4 L121 394.4 L121 395.45 L122 395.45 L122 396.48 L123 396.48 L123 397.17 L124 397.17 L124 398.07 L125 398.07 L125 399 L126 399 L126 399 L127 399" fill="none" stroke="#28479a" stroke-width="1.6"/>
<path d="M66 399L66 379.29L67 379.29L67 375.73L68 375.73L68 376.73L69 376.73L69 373.77L70 373.77L70 371.57L71 371.57L71 369.49L72 369.49L72 365.26L73 365.26L73 364.36L74 364.36L74 361.04L75 361.04L75 363.36L76 363.36L76 356.79L77 356.79L77 352.51L78 352.51L78 349L79 349L79 344.95L80 344.95L80 340.89L81 340.89L81 337.85L82 337.85L82 334.71L83 334.71L83 329.65L84 329.65L84 327.23L85 327.23L85 322.79L86 322.79L86 320.01L87 320.01L87 318.78L88 318.78L88 312.43L89 312.43L89 303.92L90 303.92L90 299.68L91 299.68L91 296.22L92 296.22L92 291.65L93 291.65L93 276.28L94 276.28L94 284.83L95 284.83L95 290.28L96 290.28L96 289.94L97 289.94L97 291.9L98 291.9L98 294.48L99 294.48L99 295.72L100 295.72L100 297.19L101 297.19L101 301.24L102 301.24L102 300.82L103 300.82L103 309.04L104 309.04L104 310.25L105 310.25L105 313L106 313L106 318.58L107 318.58L107 322.34L108 322.34L108 324.22L109 324.22L109 326.71L110 326.71L110 332.48L111 332.48L111 336.83L112 336.83L112 343.19L113 343.19L113 347.4L114 347.4L114 351.73L115 351.73L115 357.83L116 357.83L116 361.27L117 361.27L117 364.16L118 364.16L118 368.64L119 368.64L119 371.59L120 371.59L120 373.94L121 373.94L121 376.59L122 376.59L122 380.23L123 380.23L123 380.34L124 380.34L124 383.35L125 383.35L125 384.62L126 384.62L126 385.13L127 385.13L127 387.19L128 387.19L128 388.24L129 388.24L129 390.13L130 390.13L130 390.84L131 390.84L131 392.51L132 392.51L132 393.83L133 393.83L133 394.75L134 394.75L134 395.25L135 395.25L135 396.32L136 396.32L136 397.26L137 397.26L137 398.1L138 398.1L138 399L139 399L139 399L140 399L140 399Z" fill="#df8a18"/>
<path d="M66 379.29 L67 379.29 L67 375.73 L68 375.73 L68 376.73 L69 376.73 L69 373.77 L70 373.77 L70 371.57 L71 371.57 L71 369.49 L72 369.49 L72 365.26 L73 365.26 L73 364.36 L74 364.36 L74 361.04 L75 361.04 L75 363.36 L76 363.36 L76 356.79 L77 356.79 L77 352.51 L78 352.51 L78 349 L79 349 L79 344.95 L80 344.95 L80 340.89 L81 340.89 L81 337.85 L82 337.85 L82 334.71 L83 334.71 L83 329.65 L84 329.65 L84 327.23 L85 327.23 L85 322.79 L86 322.79 L86 320.01 L87 320.01 L87 318.78 L88 318.78 L88 312.43 L89 312.43 L89 303.92 L90 303.92 L90 299.68 L91 299.68 L91 296.22 L92 296.22 L92 291.65 L93 291.65 L93 276.28 L94 276.28 L94 284.83 L95 284.83 L95 290.28 L96 290.28 L96 289.94 L97 289.94 L97 291.9 L98 291.9 L98 294.48 L99 294.48 L99 295.72 L100 295.72 L100 297.19 L101 297.19 L101 301.24 L102 301.24 L102 300.82 L103 300.82 L103 309.04 L104 309.04 L104 310.25 L105 310.25 L105 313 L106 313 L106 318.58 L107 318.58 L107 322.34 L108 322.34 L108 324.22 L109 324.22 L109 326.71 L110 326.71 L110 332.48 L111 332.48 L111 336.83 L112 336.83 L112 343.19 L113 343.19 L113 347.4 L114 347.4 L114 351.73 L115 351.73 L115 357.83 L116 357.83 L116 361.27 L117 361.27 L117 364.16 L118 364.16 L118 368.64 L119 368.64 L119 371.59 L120 371.59 L120 373.94 L121 373.94 L121 376.59 L122 376.59 L122 380.23 L123 380.23 L123 380.34 L124 380.34 L124 383.35 L125 383.35 L125 384.62 L126 384.62 L126 385.13 L127 385.13 L127 387.19 L128 387.19 L128 388.24 L129 388.24 L129 390.13 L130 390.13 L130 390.84 L131 390.84 L131 392.51 L132 392.51 L132 393.83 L133 393.83 L133 394.75 L134 394.75 L134 395.25 L135 395.25 L135 396.32 L136 396.32 L136 397.26 L137 397.26 L137 398.1 L138 398.1 L138 399 L139 399 L139 399 L140 399" fill="none" stroke="#e8961e" stroke-width="1.3"/>
<path d="M66 399L66 384.73L67 384.73L67 383.81L68 383.81L68 383.51L69 383.51L69 381.55L70 381.55L70 378.75L71 378.75L71 378.2L72 378.2L72 376.28L73 376.28L73 375.31L74 375.31L74 371.08L75 371.08L75 369.74L76 369.74L76 366.91L77 366.91L77 365.51L78 365.51L78 361.37L79 361.37L79 358.78L80 358.78L80 353.15L81 353.15L81 354.33L82 354.33L82 346L83 346L83 346.3L84 346.3L84 341.26L85 341.26L85 337.02L86 337.02L86 333.45L87 333.45L87 329.59L88 329.59L88 327.01L89 327.01L89 322.13L90 322.13L90 319.56L91 319.56L91 311.1L92 311.1L92 307.3L93 307.3L93 299.85L94 299.85L94 301.03L95 301.03L95 296.75L96 296.75L96 298.8L97 298.8L97 299.75L98 299.75L98 298.26L99 298.26L99 301.77L100 301.77L100 302.81L101 302.81L101 306.81L102 306.81L102 309.08L103 309.08L103 308.79L104 308.79L104 311.04L105 311.04L105 313.32L106 313.32L106 316.03L107 316.03L107 317.72L108 317.72L108 317.41L109 317.41L109 319.73L110 319.73L110 322.65L111 322.65L111 326.06L112 326.06L112 329.63L113 329.63L113 332.91L114 332.91L114 338.69L115 338.69L115 338.76L116 338.76L116 342.32L117 342.32L117 346.55L118 346.55L118 348.19L119 348.19L119 350.92L120 350.92L120 353.08L121 353.08L121 355.69L122 355.69L122 354.88L123 354.88L123 359.81L124 359.81L124 359.93L125 359.93L125 362.82L126 362.82L126 365.81L127 365.81L127 367.87L128 367.87L128 370.48L129 370.48L129 371.98L130 371.98L130 374.13L131 374.13L131 376.12L132 376.12L132 376.89L133 376.89L133 379.89L134 379.89L134 380.37L135 380.37L135 381.8L136 381.8L136 384.98L137 384.98L137 385.63L138 385.63L138 386.9L139 386.9L139 389.51L140 389.51L140 390.02L141 390.02L141 391.22L142 391.22L142 391.64L143 391.64L143 392.62L144 392.62L144 393.24L145 393.24L145 394.11L146 394.11L146 395.11L147 395.11L147 396.07L148 396.07L148 396.78L149 396.78L149 397.31L150 397.31L150 397.59L151 397.59L151 398.12L152 398.12L152 398.54L153 398.54L153 399L154 399L154 399L155 399L155 399Z" fill="#66ac3e"/>
<path d="M66 384.73 L67 384.73 L67 383.81 L68 383.81 L68 383.51 L69 383.51 L69 381.55 L70 381.55 L70 378.75 L71 378.75 L71 378.2 L72 378.2 L72 376.28 L73 376.28 L73 375.31 L74 375.31 L74 371.08 L75 371.08 L75 369.74 L76 369.74 L76 366.91 L77 366.91 L77 365.51 L78 365.51 L78 361.37 L79 361.37 L79 358.78 L80 358.78 L80 353.15 L81 353.15 L81 354.33 L82 354.33 L82 346 L83 346 L83 346.3 L84 346.3 L84 341.26 L85 341.26 L85 337.02 L86 337.02 L86 333.45 L87 333.45 L87 329.59 L88 329.59 L88 327.01 L89 327.01 L89 322.13 L90 322.13 L90 319.56 L91 319.56 L91 311.1 L92 311.1 L92 307.3 L93 307.3 L93 299.85 L94 299.85 L94 301.03 L95 301.03 L95 296.75 L96 296.75 L96 298.8 L97 298.8 L97 299.75 L98 299.75 L98 298.26 L99 298.26 L99 301.77 L100 301.77 L100 302.81 L101 302.81 L101 306.81 L102 306.81 L102 309.08 L103 309.08 L103 308.79 L104 308.79 L104 311.04 L105 311.04 L105 313.32 L106 313.32 L106 316.03 L107 316.03 L107 317.72 L108 317.72 L108 317.41 L109 317.41 L109 319.73 L110 319.73 L110 322.65 L111 322.65 L111 326.06 L112 326.06 L112 329.63 L113 329.63 L113 332.91 L114 332.91 L114 338.69 L115 338.69 L115 338.76 L116 338.76 L116 342.32 L117 342.32 L117 346.55 L118 346.55 L118 348.19 L119 348.19 L119 350.92 L120 350.92 L120 353.08 L121 353.08 L121 355.69 L122 355.69 L122 354.88 L123 354.88 L123 359.81 L124 359.81 L124 359.93 L125 359.93 L125 362.82 L126 362.82 L126 365.81 L127 365.81 L127 367.87 L128 367.87 L128 370.48 L129 370.48 L129 371.98 L130 371.98 L130 374.13 L131 374.13 L131 376.12 L132 376.12 L132 376.89 L133 376.89 L133 379.89 L134 379.89 L134 380.37 L135 380.37 L135 381.8 L136 381.8 L136 384.98 L137 384.98 L137 385.63 L138 385.63 L138 386.9 L139 386.9 L139 389.51 L140 389.51 L140 390.02 L141 390.02 L141 391.22 L142 391.22 L142 391.64 L143 391.64 L143 392.62 L144 392.62 L144 393.24 L145 393.24 L145 394.11 L146 394.11 L146 395.11 L147 395.11 L147 396.07 L148 396.07 L148 396.78 L149 396.78 L149 397.31 L150 397.31 L150 397.59 L151 397.59 L151 398.12 L152 398.12 L152 398.54 L153 398.54 L153 399 L154 399 L154 399 L155 399" fill="none" stroke="#5fa23a" stroke-width="1.3"/>
<g>
<path d="M66 399L66 387.07L67 387.07L67 386.82L68 386.82L68 384.9L69 384.9L69 385.2L70 385.2L70 385.03L71 385.03L71 383.9L72 383.9L72 382.36L73 382.36L73 381.47L74 381.47L74 379.63L75 379.63L75 378.48L76 378.48L76 377L77 377L77 374.27L78 374.27L78 372.39L79 372.39L79 371.22L80 371.22L80 368.54L81 368.54L81 368.01L82 368.01L82 365.82L83 365.82L83 363.95L84 363.95L84 359.87L85 359.87L85 358.87L86 358.87L86 354L87 354L87 351.11L88 351.11L88 349.02L89 349.02L89 346.24L90 346.24L90 341.38L91 341.38L91 338.27L92 338.27L92 334.69L93 334.69L93 327.8L94 327.8L94 324.21L95 324.21L95 323.04L96 323.04L96 320.61L97 320.61L97 318.04L98 318.04L98 317.75L99 317.75L99 315.88L100 315.88L100 315.92L101 315.92L101 312.64L102 312.64L102 312.97L103 312.97L103 313.67L104 313.67L104 311.85L105 311.85L105 306.01L106 306.01L106 306.12L107 306.12L107 316.16L108 316.16L108 310.39L109 310.39L109 297.45L110 297.45L110 299.59L111 299.59L111 309.7L112 309.7L112 300.31L113 300.31L113 291.03L114 291.03L114 293.03L115 293.03L115 300.57L116 300.57L116 298.49L117 298.49L117 292.76L118 292.76L118 281.94L119 281.94L119 282.87L120 282.87L120 289.99L121 289.99L121 294.87L122 294.87L122 302.66L123 302.66L123 303.44L124 303.44L124 309.95L125 309.95L125 316.65L126 316.65L126 330.04L127 330.04L127 334.34L128 334.34L128 340.25L129 340.25L129 345.79L130 345.79L130 347.45L131 347.45L131 354.21L132 354.21L132 356.53L133 356.53L133 363.74L134 363.74L134 368.46L135 368.46L135 371.15L136 371.15L136 373.88L137 373.88L137 377.53L138 377.53L138 380.4L139 380.4L139 383.16L140 383.16L140 384.19L141 384.19L141 386.09L142 386.09L142 387.01L143 387.01L143 388.63L144 388.63L144 390.01L145 390.01L145 391.46L146 391.46L146 391.78L147 391.78L147 392.8L148 392.8L148 393.85L149 393.85L149 394.44L150 394.44L150 395.23L151 395.23L151 396.19L152 396.19L152 396.64L153 396.64L153 396.96L154 396.96L154 397.14L155 397.14L155 397.45L156 397.45L156 397.72L157 397.72L157 398.1L158 398.1L158 398.43L159 398.43L159 398.82L160 398.82L160 399L161 399L161 399Z" fill="#6c9c64" clip-path="url(#kG)"/>
<path d="M66 399L66 387.07L67 387.07L67 386.82L68 386.82L68 384.9L69 384.9L69 385.2L70 385.2L70 385.03L71 385.03L71 383.9L72 383.9L72 382.36L73 382.36L73 381.47L74 381.47L74 379.63L75 379.63L75 378.48L76 378.48L76 377L77 377L77 374.27L78 374.27L78 372.39L79 372.39L79 371.22L80 371.22L80 368.54L81 368.54L81 368.01L82 368.01L82 365.82L83 365.82L83 363.95L84 363.95L84 359.87L85 359.87L85 358.87L86 358.87L86 354L87 354L87 351.11L88 351.11L88 349.02L89 349.02L89 346.24L90 346.24L90 341.38L91 341.38L91 338.27L92 338.27L92 334.69L93 334.69L93 327.8L94 327.8L94 324.21L95 324.21L95 323.04L96 323.04L96 320.61L97 320.61L97 318.04L98 318.04L98 317.75L99 317.75L99 315.88L100 315.88L100 315.92L101 315.92L101 312.64L102 312.64L102 312.97L103 312.97L103 313.67L104 313.67L104 311.85L105 311.85L105 306.01L106 306.01L106 306.12L107 306.12L107 316.16L108 316.16L108 310.39L109 310.39L109 297.45L110 297.45L110 299.59L111 299.59L111 309.7L112 309.7L112 300.31L113 300.31L113 291.03L114 291.03L114 293.03L115 293.03L115 300.57L116 300.57L116 298.49L117 298.49L117 292.76L118 292.76L118 281.94L119 281.94L119 282.87L120 282.87L120 289.99L121 289.99L121 294.87L122 294.87L122 302.66L123 302.66L123 303.44L124 303.44L124 309.95L125 309.95L125 316.65L126 316.65L126 330.04L127 330.04L127 334.34L128 334.34L128 340.25L129 340.25L129 345.79L130 345.79L130 347.45L131 347.45L131 354.21L132 354.21L132 356.53L133 356.53L133 363.74L134 363.74L134 368.46L135 368.46L135 371.15L136 371.15L136 373.88L137 373.88L137 377.53L138 377.53L138 380.4L139 380.4L139 383.16L140 383.16L140 384.19L141 384.19L141 386.09L142 386.09L142 387.01L143 387.01L143 388.63L144 388.63L144 390.01L145 390.01L145 391.46L146 391.46L146 391.78L147 391.78L147 392.8L148 392.8L148 393.85L149 393.85L149 394.44L150 394.44L150 395.23L151 395.23L151 396.19L152 396.19L152 396.64L153 396.64L153 396.96L154 396.96L154 397.14L155 397.14L155 397.45L156 397.45L156 397.72L157 397.72L157 398.1L158 398.1L158 398.43L159 398.43L159 398.82L160 398.82L160 399L161 399L161 399Z" fill="#6a9254" clip-path="url(#kA)"/>
<path d="M66 399L66 387.07L67 387.07L67 386.82L68 386.82L68 384.9L69 384.9L69 385.2L70 385.2L70 385.03L71 385.03L71 383.9L72 383.9L72 382.36L73 382.36L73 381.47L74 381.47L74 379.63L75 379.63L75 378.48L76 378.48L76 377L77 377L77 374.27L78 374.27L78 372.39L79 372.39L79 371.22L80 371.22L80 368.54L81 368.54L81 368.01L82 368.01L82 365.82L83 365.82L83 363.95L84 363.95L84 359.87L85 359.87L85 358.87L86 358.87L86 354L87 354L87 351.11L88 351.11L88 349.02L89 349.02L89 346.24L90 346.24L90 341.38L91 341.38L91 338.27L92 338.27L92 334.69L93 334.69L93 327.8L94 327.8L94 324.21L95 324.21L95 323.04L96 323.04L96 320.61L97 320.61L97 318.04L98 318.04L98 317.75L99 317.75L99 315.88L100 315.88L100 315.92L101 315.92L101 312.64L102 312.64L102 312.97L103 312.97L103 313.67L104 313.67L104 311.85L105 311.85L105 306.01L106 306.01L106 306.12L107 306.12L107 316.16L108 316.16L108 310.39L109 310.39L109 297.45L110 297.45L110 299.59L111 299.59L111 309.7L112 309.7L112 300.31L113 300.31L113 291.03L114 291.03L114 293.03L115 293.03L115 300.57L116 300.57L116 298.49L117 298.49L117 292.76L118 292.76L118 281.94L119 281.94L119 282.87L120 282.87L120 289.99L121 289.99L121 294.87L122 294.87L122 302.66L123 302.66L123 303.44L124 303.44L124 309.95L125 309.95L125 316.65L126 316.65L126 330.04L127 330.04L127 334.34L128 334.34L128 340.25L129 340.25L129 345.79L130 345.79L130 347.45L131 347.45L131 354.21L132 354.21L132 356.53L133 356.53L133 363.74L134 363.74L134 368.46L135 368.46L135 371.15L136 371.15L136 373.88L137 373.88L137 377.53L138 377.53L138 380.4L139 380.4L139 383.16L140 383.16L140 384.19L141 384.19L141 386.09L142 386.09L142 387.01L143 387.01L143 388.63L144 388.63L144 390.01L145 390.01L145 391.46L146 391.46L146 391.78L147 391.78L147 392.8L148 392.8L148 393.85L149 393.85L149 394.44L150 394.44L150 395.23L151 395.23L151 396.19L152 396.19L152 396.64L153 396.64L153 396.96L154 396.96L154 397.14L155 397.14L155 397.45L156 397.45L156 397.72L157 397.72L157 398.1L158 398.1L158 398.43L159 398.43L159 398.82L160 398.82L160 399L161 399L161 399Z" fill="#668654" clip-path="url(#kC)"/>
<path d="M66 399L66 387.07L67 387.07L67 386.82L68 386.82L68 384.9L69 384.9L69 385.2L70 385.2L70 385.03L71 385.03L71 383.9L72 383.9L72 382.36L73 382.36L73 381.47L74 381.47L74 379.63L75 379.63L75 378.48L76 378.48L76 377L77 377L77 374.27L78 374.27L78 372.39L79 372.39L79 371.22L80 371.22L80 368.54L81 368.54L81 368.01L82 368.01L82 365.82L83 365.82L83 363.95L84 363.95L84 359.87L85 359.87L85 358.87L86 358.87L86 354L87 354L87 351.11L88 351.11L88 349.02L89 349.02L89 346.24L90 346.24L90 341.38L91 341.38L91 338.27L92 338.27L92 334.69L93 334.69L93 327.8L94 327.8L94 324.21L95 324.21L95 323.04L96 323.04L96 320.61L97 320.61L97 318.04L98 318.04L98 317.75L99 317.75L99 315.88L100 315.88L100 315.92L101 315.92L101 312.64L102 312.64L102 312.97L103 312.97L103 313.67L104 313.67L104 311.85L105 311.85L105 306.01L106 306.01L106 306.12L107 306.12L107 316.16L108 316.16L108 310.39L109 310.39L109 297.45L110 297.45L110 299.59L111 299.59L111 309.7L112 309.7L112 300.31L113 300.31L113 291.03L114 291.03L114 293.03L115 293.03L115 300.57L116 300.57L116 298.49L117 298.49L117 292.76L118 292.76L118 281.94L119 281.94L119 282.87L120 282.87L120 289.99L121 289.99L121 294.87L122 294.87L122 302.66L123 302.66L123 303.44L124 303.44L124 309.95L125 309.95L125 316.65L126 316.65L126 330.04L127 330.04L127 334.34L128 334.34L128 340.25L129 340.25L129 345.79L130 345.79L130 347.45L131 347.45L131 354.21L132 354.21L132 356.53L133 356.53L133 363.74L134 363.74L134 368.46L135 368.46L135 371.15L136 371.15L136 373.88L137 373.88L137 377.53L138 377.53L138 380.4L139 380.4L139 383.16L140 383.16L140 384.19L141 384.19L141 386.09L142 386.09L142 387.01L143 387.01L143 388.63L144 388.63L144 390.01L145 390.01L145 391.46L146 391.46L146 391.78L147 391.78L147 392.8L148 392.8L148 393.85L149 393.85L149 394.44L150 394.44L150 395.23L151 395.23L151 396.19L152 396.19L152 396.64L153 396.64L153 396.96L154 396.96L154 397.14L155 397.14L155 397.45L156 397.45L156 397.72L157 397.72L157 398.1L158 398.1L158 398.43L159 398.43L159 398.82L160 398.82L160 399L161 399L161 399Z" fill="#658252" clip-path="url(#kI)"/>
</g>
<path d="M66 384.73 L67 384.73 L67 383.81 L68 383.81 L68 383.51 L69 383.51 L69 381.55 L70 381.55 L70 378.75 L71 378.75 L71 378.2 L72 378.2 L72 376.28 L73 376.28 L73 375.31 L74 375.31 L74 371.08 L75 371.08 L75 369.74 L76 369.74 L76 366.91 L77 366.91 L77 365.51 L78 365.51 L78 361.37 L79 361.37 L79 358.78 L80 358.78 L80 353.15 L81 353.15 L81 354.33 L82 354.33 L82 346 L83 346 L83 346.3 L84 346.3 L84 341.26 L85 341.26 L85 337.02 L86 337.02 L86 333.45 L87 333.45 L87 329.59 L88 329.59 L88 327.01 L89 327.01 L89 322.13 L90 322.13 L90 319.56 L91 319.56 L91 311.1 L92 311.1 L92 307.3 L93 307.3 L93 299.85 L94 299.85 L94 301.03 L95 301.03 L95 296.75 L96 296.75 L96 298.8 L97 298.8 L97 299.75 L98 299.75 L98 298.26 L99 298.26 L99 301.77 L100 301.77 L100 302.81 L101 302.81 L101 306.81 L102 306.81 L102 309.08 L103 309.08 L103 308.79 L104 308.79 L104 311.04 L105 311.04 L105 313.32 L106 313.32 L106 316.03 L107 316.03 L107 317.72 L108 317.72 L108 317.41 L109 317.41 L109 319.73 L110 319.73 L110 322.65 L111 322.65 L111 326.06 L112 326.06 L112 329.63 L113 329.63 L113 332.91 L114 332.91 L114 338.69 L115 338.69 L115 338.76 L116 338.76 L116 342.32 L117 342.32 L117 346.55 L118 346.55 L118 348.19 L119 348.19 L119 350.92 L120 350.92 L120 353.08 L121 353.08 L121 355.69 L122 355.69 L122 354.88 L123 354.88 L123 359.81 L124 359.81 L124 359.93 L125 359.93 L125 362.82 L126 362.82 L126 365.81 L127 365.81 L127 367.87 L128 367.87 L128 370.48 L129 370.48 L129 371.98 L130 371.98 L130 374.13 L131 374.13 L131 376.12 L132 376.12 L132 376.89 L133 376.89 L133 379.89 L134 379.89 L134 380.37 L135 380.37 L135 381.8 L136 381.8 L136 384.98 L137 384.98 L137 385.63 L138 385.63 L138 386.9 L139 386.9 L139 389.51 L140 389.51 L140 390.02 L141 390.02 L141 391.22 L142 391.22 L142 391.64 L143 391.64 L143 392.62 L144 392.62 L144 393.24 L145 393.24 L145 394.11 L146 394.11 L146 395.11 L147 395.11 L147 396.07 L148 396.07 L148 396.78 L149 396.78 L149 397.31 L150 397.31 L150 397.59 L151 397.59 L151 398.12 L152 398.12 L152 398.54 L153 398.54 L153 399 L154 399 L154 399 L155 399" fill="none" stroke="#5f9458" stroke-width="1" clip-path="url(#kH)"/>
<path d="M66 379.29 L67 379.29 L67 375.73 L68 375.73 L68 376.73 L69 376.73 L69 373.77 L70 373.77 L70 371.57 L71 371.57 L71 369.49 L72 369.49 L72 365.26 L73 365.26 L73 364.36 L74 364.36 L74 361.04 L75 361.04 L75 363.36 L76 363.36 L76 356.79 L77 356.79 L77 352.51 L78 352.51 L78 349 L79 349 L79 344.95 L80 344.95 L80 340.89 L81 340.89 L81 337.85 L82 337.85 L82 334.71 L83 334.71 L83 329.65 L84 329.65 L84 327.23 L85 327.23 L85 322.79 L86 322.79 L86 320.01 L87 320.01 L87 318.78 L88 318.78 L88 312.43 L89 312.43 L89 303.92 L90 303.92 L90 299.68 L91 299.68 L91 296.22 L92 296.22 L92 291.65 L93 291.65 L93 276.28 L94 276.28 L94 284.83 L95 284.83 L95 290.28 L96 290.28 L96 289.94 L97 289.94 L97 291.9 L98 291.9 L98 294.48 L99 294.48 L99 295.72 L100 295.72 L100 297.19 L101 297.19 L101 301.24 L102 301.24 L102 300.82 L103 300.82 L103 309.04 L104 309.04 L104 310.25 L105 310.25 L105 313 L106 313 L106 318.58 L107 318.58 L107 322.34 L108 322.34 L108 324.22 L109 324.22 L109 326.71 L110 326.71 L110 332.48 L111 332.48 L111 336.83 L112 336.83 L112 343.19 L113 343.19 L113 347.4 L114 347.4 L114 351.73 L115 351.73 L115 357.83 L116 357.83 L116 361.27 L117 361.27 L117 364.16 L118 364.16 L118 368.64 L119 368.64 L119 371.59 L120 371.59 L120 373.94 L121 373.94 L121 376.59 L122 376.59 L122 380.23 L123 380.23 L123 380.34 L124 380.34 L124 383.35 L125 383.35 L125 384.62 L126 384.62 L126 385.13 L127 385.13 L127 387.19 L128 387.19 L128 388.24 L129 388.24 L129 390.13 L130 390.13 L130 390.84 L131 390.84 L131 392.51 L132 392.51 L132 393.83 L133 393.83 L133 394.75 L134 394.75 L134 395.25 L135 395.25 L135 396.32 L136 396.32 L136 397.26 L137 397.26 L137 398.1 L138 398.1 L138 399 L139 399 L139 399 L140 399" fill="none" stroke="#62884c" stroke-width="1" clip-path="url(#kH)"/>
<path d="M66 370.21 L67 370.21 L67 369.35 L68 369.35 L68 368.47 L69 368.47 L69 364.28 L70 364.28 L70 367.24 L71 367.24 L71 364.24 L72 364.24 L72 358.88 L73 358.88 L73 356.75 L74 356.75 L74 352.24 L75 352.24 L75 347.29 L76 347.29 L76 346.2 L77 346.2 L77 340.89 L78 340.89 L78 337.51 L79 337.51 L79 333.48 L80 333.48 L80 329.05 L81 329.05 L81 318.96 L82 318.96 L82 314.73 L83 314.73 L83 310.52 L84 310.52 L84 309.13 L85 309.13 L85 304.25 L86 304.25 L86 302.64 L87 302.64 L87 296.58 L88 296.58 L88 288.26 L89 288.26 L89 282.22 L90 282.22 L90 276.29 L91 276.29 L91 275.19 L92 275.19 L92 273.92 L93 273.92 L93 265.6 L94 265.6 L94 271.23 L95 271.23 L95 279.81 L96 279.81 L96 289.12 L97 289.12 L97 292.15 L98 292.15 L98 298.82 L99 298.82 L99 304.68 L100 304.68 L100 310.32 L101 310.32 L101 318.43 L102 318.43 L102 325.75 L103 325.75 L103 336.05 L104 336.05 L104 342.31 L105 342.31 L105 353.37 L106 353.37 L106 363.7 L107 363.7 L107 369.31 L108 369.31 L108 370.14 L109 370.14 L109 373.74 L110 373.74 L110 378.08 L111 378.08 L111 382 L112 382 L112 383.13 L113 383.13 L113 385.86 L114 385.86 L114 386.25 L115 386.25 L115 389.42 L116 389.42 L116 390.43 L117 390.43 L117 390.75 L118 390.75 L118 392.29 L119 392.29 L119 393.59 L120 393.59 L120 394.4 L121 394.4 L121 395.45 L122 395.45 L122 396.48 L123 396.48 L123 397.17 L124 397.17 L124 398.07 L125 398.07 L125 399 L126 399 L126 399 L127 399" fill="none" stroke="#5e7e4c" stroke-width="1" clip-path="url(#kH)"/>
<path d="M66 387.07 L67 387.07 L67 386.82 L68 386.82 L68 384.9 L69 384.9 L69 385.2 L70 385.2 L70 385.03 L71 385.03 L71 383.9 L72 383.9 L72 382.36 L73 382.36 L73 381.47 L74 381.47 L74 379.63 L75 379.63 L75 378.48 L76 378.48 L76 377 L77 377 L77 374.27 L78 374.27 L78 372.39 L79 372.39 L79 371.22 L80 371.22 L80 368.54 L81 368.54 L81 368.01 L82 368.01 L82 365.82 L83 365.82 L83 363.95 L84 363.95 L84 359.87 L85 359.87 L85 358.87 L86 358.87 L86 354 L87 354 L87 351.11 L88 351.11 L88 349.02 L89 349.02 L89 346.24 L90 346.24 L90 341.38 L91 341.38 L91 338.27 L92 338.27 L92 334.69 L93 334.69 L93 327.8 L94 327.8 L94 324.21 L95 324.21 L95 323.04 L96 323.04 L96 320.61 L97 320.61 L97 318.04 L98 318.04 L98 317.75 L99 317.75 L99 315.88 L100 315.88 L100 315.92 L101 315.92 L101 312.64 L102 312.64 L102 312.97 L103 312.97 L103 313.67 L104 313.67 L104 311.85 L105 311.85 L105 306.01 L106 306.01 L106 306.12 L107 306.12 L107 316.16 L108 316.16 L108 310.39 L109 310.39 L109 297.45 L110 297.45 L110 299.59 L111 299.59 L111 309.7 L112 309.7 L112 300.31 L113 300.31 L113 291.03 L114 291.03 L114 293.03 L115 293.03 L115 300.57 L116 300.57 L116 298.49 L117 298.49 L117 292.76 L118 292.76 L118 281.94 L119 281.94 L119 282.87 L120 282.87 L120 289.99 L121 289.99 L121 294.87 L122 294.87 L122 302.66 L123 302.66 L123 303.44 L124 303.44 L124 309.95 L125 309.95 L125 316.65 L126 316.65 L126 330.04 L127 330.04 L127 334.34 L128 334.34 L128 340.25 L129 340.25 L129 345.79 L130 345.79 L130 347.45 L131 347.45 L131 354.21 L132 354.21 L132 356.53 L133 356.53 L133 363.74 L134 363.74 L134 368.46 L135 368.46 L135 371.15 L136 371.15 L136 373.88 L137 373.88 L137 377.53 L138 377.53 L138 380.4 L139 380.4 L139 383.16 L140 383.16 L140 384.19 L141 384.19 L141 386.09 L142 386.09 L142 387.01 L143 387.01 L143 388.63 L144 388.63 L144 390.01 L145 390.01 L145 391.46 L146 391.46 L146 391.78 L147 391.78 L147 392.8 L148 392.8 L148 393.85 L149 393.85 L149 394.44 L150 394.44 L150 395.23 L151 395.23 L151 396.19 L152 396.19 L152 396.64 L153 396.64 L153 396.96 L154 396.96 L154 397.14 L155 397.14 L155 397.45 L156 397.45 L156 397.72 L157 397.72 L157 398.1 L158 398.1 L158 398.43 L159 398.43 L159 398.82 L160 398.82 L160 399 L161 399" fill="none" stroke="#2f6a4c" stroke-width="1.8"/>
</g>
<defs><clipPath id="kH"><path d="M66 399L66 387.07L67 387.07L67 386.82L68 386.82L68 384.9L69 384.9L69 385.2L70 385.2L70 385.03L71 385.03L71 383.9L72 383.9L72 382.36L73 382.36L73 381.47L74 381.47L74 379.63L75 379.63L75 378.48L76 378.48L76 377L77 377L77 374.27L78 374.27L78 372.39L79 372.39L79 371.22L80 371.22L80 368.54L81 368.54L81 368.01L82 368.01L82 365.82L83 365.82L83 363.95L84 363.95L84 359.87L85 359.87L85 358.87L86 358.87L86 354L87 354L87 351.11L88 351.11L88 349.02L89 349.02L89 346.24L90 346.24L90 341.38L91 341.38L91 338.27L92 338.27L92 334.69L93 334.69L93 327.8L94 327.8L94 324.21L95 324.21L95 323.04L96 323.04L96 320.61L97 320.61L97 318.04L98 318.04L98 317.75L99 317.75L99 315.88L100 315.88L100 315.92L101 315.92L101 312.64L102 312.64L102 312.97L103 312.97L103 313.67L104 313.67L104 311.85L105 311.85L105 306.01L106 306.01L106 306.12L107 306.12L107 316.16L108 316.16L108 310.39L109 310.39L109 297.45L110 297.45L110 299.59L111 299.59L111 309.7L112 309.7L112 300.31L113 300.31L113 291.03L114 291.03L114 293.03L115 293.03L115 300.57L116 300.57L116 298.49L117 298.49L117 292.76L118 292.76L118 281.94L119 281.94L119 282.87L120 282.87L120 289.99L121 289.99L121 294.87L122 294.87L122 302.66L123 302.66L123 303.44L124 303.44L124 309.95L125 309.95L125 316.65L126 316.65L126 330.04L127 330.04L127 334.34L128 334.34L128 340.25L129 340.25L129 345.79L130 345.79L130 347.45L131 347.45L131 354.21L132 354.21L132 356.53L133 356.53L133 363.74L134 363.74L134 368.46L135 368.46L135 371.15L136 371.15L136 373.88L137 373.88L137 377.53L138 377.53L138 380.4L139 380.4L139 383.16L140 383.16L140 384.19L141 384.19L141 386.09L142 386.09L142 387.01L143 387.01L143 388.63L144 388.63L144 390.01L145 390.01L145 391.46L146 391.46L146 391.78L147 391.78L147 392.8L148 392.8L148 393.85L149 393.85L149 394.44L150 394.44L150 395.23L151 395.23L151 396.19L152 396.19L152 396.64L153 396.64L153 396.96L154 396.96L154 397.14L155 397.14L155 397.45L156 397.45L156 397.72L157 397.72L157 398.1L158 398.1L158 398.43L159 398.43L159 398.82L160 398.82L160 399L161 399L161 399Z"/></clipPath></defs>
<path d="M66 399 V252.8 H205 V399 H66" fill="none" stroke="#000" stroke-width="2" stroke-linejoin="round"/>
<rect x="66" y="252.8" width="139" height="146.2" fill="none" stroke="#000" stroke-width="2" rx="1.5"/>
<line x1="61.3" y1="399" x2="66" y2="399" stroke="#111" stroke-width="1.3"/>
<text x="60.6" y="401.7" font-size="7.7" fill="#333" text-anchor="end">0</text>
<line x1="61.3" y1="352.83" x2="66" y2="352.83" stroke="#111" stroke-width="1.3"/>
<text x="60.39" y="355.53" font-size="7.7" fill="#333" text-anchor="end">1.0K</text>
<line x1="61.3" y1="306.67" x2="66" y2="306.67" stroke="#111" stroke-width="1.3"/>
<text x="60.39" y="309.37" font-size="7.7" fill="#333" text-anchor="end">2.0K</text>
<line x1="61.3" y1="260.5" x2="66" y2="260.5" stroke="#111" stroke-width="1.3"/>
<text x="60.39" y="263.2" font-size="7.7" fill="#333" text-anchor="end">3.0K</text>
<line x1="63.6" y1="387.46" x2="66" y2="387.46" stroke="#111" stroke-width="1.1"/>
<line x1="63.6" y1="375.92" x2="66" y2="375.92" stroke="#111" stroke-width="1.1"/>
<line x1="63.6" y1="364.38" x2="66" y2="364.38" stroke="#111" stroke-width="1.1"/>
<line x1="63.6" y1="341.29" x2="66" y2="341.29" stroke="#111" stroke-width="1.1"/>
<line x1="63.6" y1="329.75" x2="66" y2="329.75" stroke="#111" stroke-width="1.1"/>
<line x1="63.6" y1="318.21" x2="66" y2="318.21" stroke="#111" stroke-width="1.1"/>
<line x1="63.6" y1="295.12" x2="66" y2="295.12" stroke="#111" stroke-width="1.1"/>
<line x1="63.6" y1="283.58" x2="66" y2="283.58" stroke="#111" stroke-width="1.1"/>
<line x1="63.6" y1="272.04" x2="66" y2="272.04" stroke="#111" stroke-width="1.1"/>
<line x1="66" y1="399" x2="66" y2="403.3" stroke="#111" stroke-width="1.3"/>
<line x1="76.46" y1="399" x2="76.46" y2="401.8" stroke="#111" stroke-width="1.1"/>
<line x1="82.58" y1="399" x2="82.58" y2="401.8" stroke="#111" stroke-width="1.1"/>
<line x1="86.92" y1="399" x2="86.92" y2="401.8" stroke="#111" stroke-width="1.1"/>
<line x1="90.29" y1="399" x2="90.29" y2="401.8" stroke="#111" stroke-width="1.1"/>
<line x1="93.04" y1="399" x2="93.04" y2="401.8" stroke="#111" stroke-width="1.1"/>
<line x1="95.37" y1="399" x2="95.37" y2="401.8" stroke="#111" stroke-width="1.1"/>
<line x1="97.38" y1="399" x2="97.38" y2="401.8" stroke="#111" stroke-width="1.1"/>
<line x1="99.16" y1="399" x2="99.16" y2="401.8" stroke="#111" stroke-width="1.1"/>
<text x="59.77" y="411.3" font-size="7.6" fill="#333" textLength="9.15" lengthAdjust="spacingAndGlyphs">10</text>
<text x="69.4" y="407.2" font-size="4.6" fill="#333">0</text>
<line x1="100.75" y1="399" x2="100.75" y2="403.3" stroke="#111" stroke-width="1.3"/>
<line x1="111.21" y1="399" x2="111.21" y2="401.8" stroke="#111" stroke-width="1.1"/>
<line x1="117.33" y1="399" x2="117.33" y2="401.8" stroke="#111" stroke-width="1.1"/>
<line x1="121.67" y1="399" x2="121.67" y2="401.8" stroke="#111" stroke-width="1.1"/>
<line x1="125.04" y1="399" x2="125.04" y2="401.8" stroke="#111" stroke-width="1.1"/>
<line x1="127.79" y1="399" x2="127.79" y2="401.8" stroke="#111" stroke-width="1.1"/>
<line x1="130.12" y1="399" x2="130.12" y2="401.8" stroke="#111" stroke-width="1.1"/>
<line x1="132.13" y1="399" x2="132.13" y2="401.8" stroke="#111" stroke-width="1.1"/>
<line x1="133.91" y1="399" x2="133.91" y2="401.8" stroke="#111" stroke-width="1.1"/>
<text x="94.52" y="411.3" font-size="7.6" fill="#333" textLength="9.15" lengthAdjust="spacingAndGlyphs">10</text>
<text x="104.15" y="407.2" font-size="4.6" fill="#333">1</text>
<line x1="135.5" y1="399" x2="135.5" y2="403.3" stroke="#111" stroke-width="1.3"/>
<line x1="145.96" y1="399" x2="145.96" y2="401.8" stroke="#111" stroke-width="1.1"/>
<line x1="152.08" y1="399" x2="152.08" y2="401.8" stroke="#111" stroke-width="1.1"/>
<line x1="156.42" y1="399" x2="156.42" y2="401.8" stroke="#111" stroke-width="1.1"/>
<line x1="159.79" y1="399" x2="159.79" y2="401.8" stroke="#111" stroke-width="1.1"/>
<line x1="162.54" y1="399" x2="162.54" y2="401.8" stroke="#111" stroke-width="1.1"/>
<line x1="164.87" y1="399" x2="164.87" y2="401.8" stroke="#111" stroke-width="1.1"/>
<line x1="166.88" y1="399" x2="166.88" y2="401.8" stroke="#111" stroke-width="1.1"/>
<line x1="168.66" y1="399" x2="168.66" y2="401.8" stroke="#111" stroke-width="1.1"/>
<text x="129.27" y="411.3" font-size="7.6" fill="#333" textLength="9.15" lengthAdjust="spacingAndGlyphs">10</text>
<text x="138.9" y="407.2" font-size="4.6" fill="#333">2</text>
<line x1="170.25" y1="399" x2="170.25" y2="403.3" stroke="#111" stroke-width="1.3"/>
<line x1="180.71" y1="399" x2="180.71" y2="401.8" stroke="#111" stroke-width="1.1"/>
<line x1="186.83" y1="399" x2="186.83" y2="401.8" stroke="#111" stroke-width="1.1"/>
<line x1="191.17" y1="399" x2="191.17" y2="401.8" stroke="#111" stroke-width="1.1"/>
<line x1="194.54" y1="399" x2="194.54" y2="401.8" stroke="#111" stroke-width="1.1"/>
<line x1="197.29" y1="399" x2="197.29" y2="401.8" stroke="#111" stroke-width="1.1"/>
<line x1="199.62" y1="399" x2="199.62" y2="401.8" stroke="#111" stroke-width="1.1"/>
<line x1="201.63" y1="399" x2="201.63" y2="401.8" stroke="#111" stroke-width="1.1"/>
<line x1="203.41" y1="399" x2="203.41" y2="401.8" stroke="#111" stroke-width="1.1"/>
<text x="164.02" y="411.3" font-size="7.6" fill="#333" textLength="9.15" lengthAdjust="spacingAndGlyphs">10</text>
<text x="173.65" y="407.2" font-size="4.6" fill="#333">3</text>
<line x1="205" y1="399" x2="205" y2="403.3" stroke="#111" stroke-width="1.3"/>
<text x="198.77" y="411.3" font-size="7.6" fill="#333" textLength="9.15" lengthAdjust="spacingAndGlyphs">10</text>
<text x="208.4" y="407.2" font-size="4.6" fill="#333">4</text>
<text x="125.49" y="427" font-size="10" fill="#333" textLength="17.32" lengthAdjust="spacingAndGlyphs">PE-A</text>
<line x1="62.5" y1="431.9" x2="209" y2="431.9" stroke="#111" stroke-width="1.7"/>
<text x="112.99" y="446" font-size="13.4" fill="#2a2a2a" textLength="45.25" lengthAdjust="spacingAndGlyphs">CD62P</text>
<line x1="24.8" y1="254.2" x2="24.8" y2="398.2" stroke="#111" stroke-width="1.8"/>
<text transform="translate(21.15,346.7) rotate(-90)" x="-0.73" y="0" font-size="15.2" fill="#3a3a3a" textLength="45.65" lengthAdjust="spacingAndGlyphs">Counts</text>
<text transform="translate(36.49,336.2) rotate(-90)" x="-0.45" y="0" font-size="11" fill="#333" textLength="23.82" lengthAdjust="spacingAndGlyphs">Count</text>
<rect x="210.9" y="257.3" width="10.6" height="9.6" fill="#e0849a" stroke="#9a1035" stroke-width="1.9"/>
<text x="224.99" y="265.8" font-size="11.6" fill="#3c3c3c" textLength="18.94" lengthAdjust="spacingAndGlyphs">ISO</text>
<rect x="210.9" y="275.1" width="10.6" height="9.1" fill="#97a5cf" stroke="#2a3a7a" stroke-width="1.9"/>
<text x="225.41" y="283.1" font-size="11.6" fill="#3c3c3c" textLength="37.47" lengthAdjust="spacingAndGlyphs">Control</text>
<rect x="210.9" y="294.3" width="10.6" height="9.7" fill="#f2c57c" stroke="#e09a38" stroke-width="1.9"/>
<text x="225.98" y="302.9" font-size="11.6" fill="#3c3c3c" textLength="21.47" lengthAdjust="spacingAndGlyphs">ADP</text>
<rect x="210.9" y="313.5" width="10.6" height="9.8" fill="#b5d89e" stroke="#7caf5e" stroke-width="1.9"/>
<text x="225.98" y="322.2" font-size="11.6" fill="#3c3c3c" textLength="72.55" lengthAdjust="spacingAndGlyphs">ADP+IGF-1 10</text>
<rect x="210.9" y="332.7" width="10.6" height="9.2" fill="#98b0a2" stroke="#3f6a54" stroke-width="1.9"/>
<text x="225.98" y="340.8" font-size="11.6" fill="#3c3c3c" textLength="78.25" lengthAdjust="spacingAndGlyphs">ADP+IGF-1 100</text>
<rect x="1" y="1" width="518" height="681" fill="none" stroke="#121212" stroke-width="2"/>
</svg>
</body></html>
